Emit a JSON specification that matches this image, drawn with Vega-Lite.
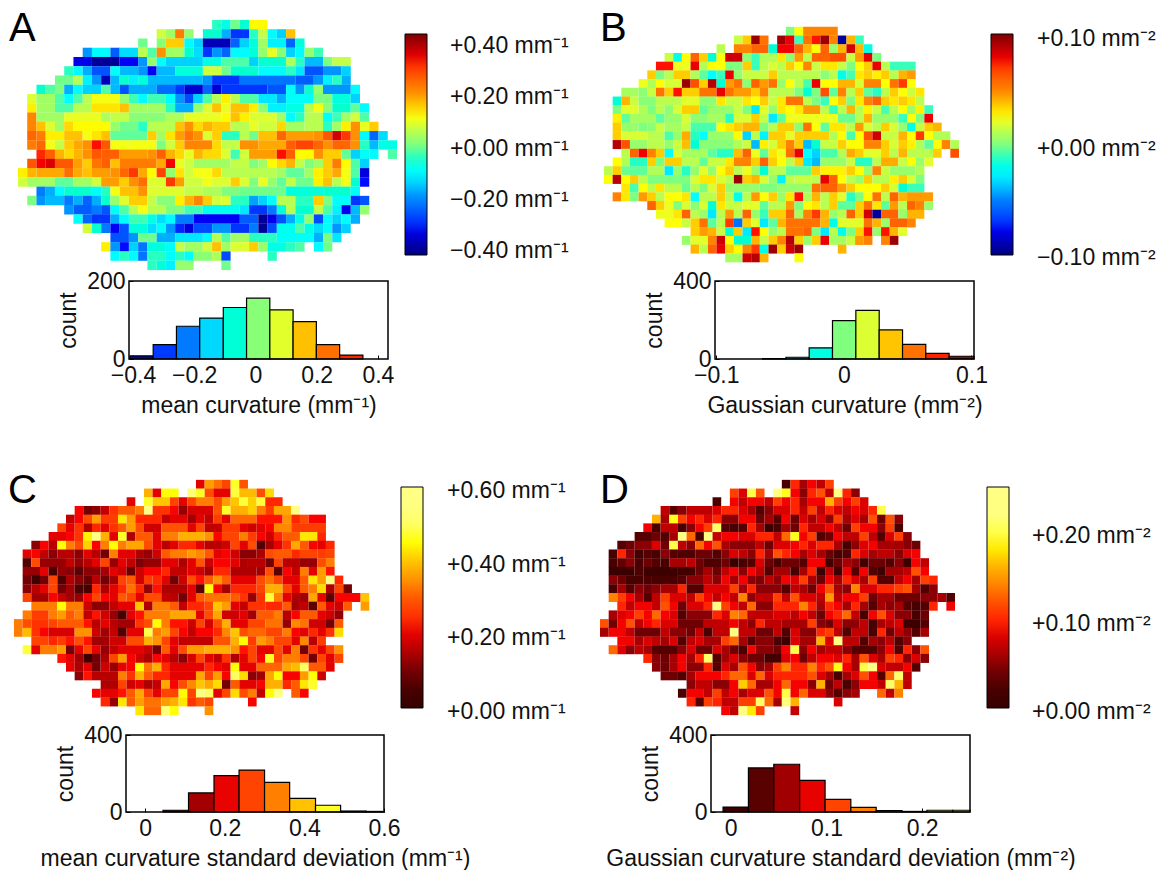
{"$schema":"https://vega.github.io/schema/vega-lite/v6.json","padding":{"left":8,"top":8,"right":0,"bottom":0},"background":"white","config":{"font":"Liberation Sans","view":{"stroke":null},"axis":{"grid":false,"domain":false,"labelFontSize":23,"titleFontSize":23,"titleFontWeight":"normal","labelColor":"#111","titleColor":"#111","tickColor":"#000","tickSize":-4,"labelPadding":9,"labelFlush":false,"labelOverlap":false}},"datasets":{"A":[{"r":0,"a":21,"b":22,"v":-0.05},{"r":0,"a":22,"b":23,"v":-0.08},{"r":0,"a":23,"b":24,"v":-0.01},{"r":0,"a":24,"b":25,"v":-0.06},{"r":0,"a":25,"b":27,"v":0.11},{"r":1,"a":15,"b":16,"v":0.07},{"r":1,"a":16,"b":17,"v":0.03},{"r":1,"a":17,"b":18,"v":0.22},{"r":1,"a":18,"b":19,"v":0.02},{"r":1,"a":20,"b":22,"v":-0.06},{"r":1,"a":22,"b":23,"v":-0.18},{"r":1,"a":23,"b":25,"v":-0.3},{"r":1,"a":25,"b":26,"v":-0.05},{"r":1,"a":26,"b":27,"v":0.06},{"r":1,"a":27,"b":28,"v":-0.11},{"r":1,"a":28,"b":29,"v":-0.15},{"r":1,"a":29,"b":30,"v":0.16},{"r":2,"a":13,"b":14,"v":-0.01},{"r":2,"a":15,"b":16,"v":0.01},{"r":2,"a":16,"b":18,"v":0.15},{"r":2,"a":18,"b":19,"v":-0.11},{"r":2,"a":19,"b":20,"v":-0.15},{"r":2,"a":20,"b":23,"v":-0.38},{"r":2,"a":23,"b":24,"v":-0.25},{"r":2,"a":24,"b":25,"v":-0.15},{"r":2,"a":25,"b":26,"v":-0.07},{"r":2,"a":26,"b":27,"v":0.03},{"r":2,"a":27,"b":29,"v":-0.12},{"r":2,"a":29,"b":30,"v":-0.25},{"r":2,"a":30,"b":31,"v":-0.07},{"r":3,"a":7,"b":8,"v":-0.2},{"r":3,"a":8,"b":10,"v":-0.11},{"r":3,"a":10,"b":11,"v":-0.26},{"r":3,"a":11,"b":13,"v":-0.14},{"r":3,"a":13,"b":14,"v":0.05},{"r":3,"a":14,"b":15,"v":-0.03},{"r":3,"a":15,"b":16,"v":0.2},{"r":3,"a":16,"b":18,"v":0.03},{"r":3,"a":18,"b":19,"v":-0.06},{"r":3,"a":19,"b":20,"v":-0.14},{"r":3,"a":20,"b":21,"v":-0.3},{"r":3,"a":21,"b":22,"v":-0.2},{"r":3,"a":22,"b":23,"v":-0.25},{"r":3,"a":23,"b":25,"v":-0.11},{"r":3,"a":25,"b":26,"v":-0.07},{"r":3,"a":26,"b":27,"v":0.02},{"r":3,"a":27,"b":28,"v":0.09},{"r":3,"a":28,"b":29,"v":0.01},{"r":3,"a":29,"b":30,"v":-0.15},{"r":3,"a":30,"b":31,"v":-0.11},{"r":3,"a":31,"b":32,"v":0.02},{"r":3,"a":32,"b":33,"v":-0.04},{"r":4,"a":6,"b":8,"v":-0.34},{"r":4,"a":8,"b":11,"v":-0.41},{"r":4,"a":11,"b":13,"v":-0.33},{"r":4,"a":13,"b":14,"v":-0.2},{"r":4,"a":14,"b":15,"v":0.02},{"r":4,"a":15,"b":16,"v":-0.1},{"r":4,"a":16,"b":20,"v":-0.15},{"r":4,"a":20,"b":22,"v":-0.08},{"r":4,"a":22,"b":25,"v":-0.03},{"r":4,"a":25,"b":26,"v":-0.15},{"r":4,"a":26,"b":29,"v":-0.06},{"r":4,"a":29,"b":30,"v":0.04},{"r":4,"a":30,"b":31,"v":-0.05},{"r":4,"a":31,"b":33,"v":-0.17},{"r":4,"a":33,"b":34,"v":0},{"r":4,"a":34,"b":36,"v":0.06},{"r":5,"a":5,"b":6,"v":-0.05},{"r":5,"a":6,"b":7,"v":-0.11},{"r":5,"a":7,"b":8,"v":-0.18},{"r":5,"a":8,"b":10,"v":-0.27},{"r":5,"a":10,"b":11,"v":-0.1},{"r":5,"a":11,"b":13,"v":-0.17},{"r":5,"a":13,"b":14,"v":-0.2},{"r":5,"a":14,"b":15,"v":-0.33},{"r":5,"a":15,"b":17,"v":-0.17},{"r":5,"a":17,"b":20,"v":-0.07},{"r":5,"a":20,"b":22,"v":0.07},{"r":5,"a":22,"b":23,"v":-0.01},{"r":5,"a":23,"b":26,"v":-0.06},{"r":5,"a":26,"b":29,"v":-0.11},{"r":5,"a":29,"b":30,"v":-0.05},{"r":5,"a":30,"b":31,"v":-0.13},{"r":5,"a":31,"b":33,"v":-0.27},{"r":5,"a":33,"b":35,"v":-0.2},{"r":5,"a":35,"b":36,"v":-0.15},{"r":6,"a":4,"b":6,"v":-0.01},{"r":6,"a":6,"b":7,"v":0.05},{"r":6,"a":7,"b":8,"v":-0.12},{"r":6,"a":8,"b":9,"v":-0.2},{"r":6,"a":9,"b":10,"v":-0.38},{"r":6,"a":10,"b":11,"v":-0.17},{"r":6,"a":11,"b":12,"v":-0.06},{"r":6,"a":12,"b":13,"v":-0.12},{"r":6,"a":13,"b":14,"v":-0.07},{"r":6,"a":14,"b":20,"v":-0.17},{"r":6,"a":20,"b":21,"v":-0.2},{"r":6,"a":21,"b":24,"v":-0.3},{"r":6,"a":24,"b":30,"v":-0.23},{"r":6,"a":30,"b":32,"v":-0.26},{"r":6,"a":32,"b":33,"v":-0.2},{"r":6,"a":33,"b":34,"v":-0.12},{"r":6,"a":34,"b":35,"v":-0.05},{"r":6,"a":35,"b":36,"v":-0.18},{"r":7,"a":2,"b":3,"v":-0.06},{"r":7,"a":3,"b":4,"v":-0.03},{"r":7,"a":4,"b":5,"v":0},{"r":7,"a":5,"b":6,"v":-0.18},{"r":7,"a":6,"b":7,"v":-0.11},{"r":7,"a":7,"b":9,"v":-0.15},{"r":7,"a":9,"b":10,"v":-0.03},{"r":7,"a":10,"b":11,"v":-0.17},{"r":7,"a":11,"b":12,"v":-0.27},{"r":7,"a":12,"b":15,"v":-0.18},{"r":7,"a":15,"b":17,"v":-0.24},{"r":7,"a":17,"b":18,"v":-0.3},{"r":7,"a":18,"b":20,"v":-0.36},{"r":7,"a":20,"b":21,"v":-0.25},{"r":7,"a":21,"b":22,"v":-0.36},{"r":7,"a":22,"b":27,"v":-0.3},{"r":7,"a":27,"b":29,"v":-0.27},{"r":7,"a":29,"b":30,"v":-0.1},{"r":7,"a":30,"b":31,"v":-0.2},{"r":7,"a":31,"b":32,"v":-0.06},{"r":7,"a":32,"b":33,"v":0.02},{"r":7,"a":33,"b":36,"v":-0.2},{"r":7,"a":36,"b":37,"v":-0.11},{"r":8,"a":1,"b":2,"v":0.08},{"r":8,"a":2,"b":4,"v":0.03},{"r":8,"a":4,"b":5,"v":-0.03},{"r":8,"a":5,"b":6,"v":-0.1},{"r":8,"a":6,"b":7,"v":-0.03},{"r":8,"a":7,"b":8,"v":0.05},{"r":8,"a":8,"b":11,"v":0.1},{"r":8,"a":11,"b":12,"v":0.02},{"r":8,"a":12,"b":13,"v":-0.04},{"r":8,"a":13,"b":14,"v":-0.11},{"r":8,"a":14,"b":16,"v":-0.04},{"r":8,"a":16,"b":17,"v":-0.1},{"r":8,"a":17,"b":18,"v":-0.2},{"r":8,"a":18,"b":19,"v":-0.28},{"r":8,"a":19,"b":20,"v":-0.15},{"r":8,"a":20,"b":21,"v":-0.03},{"r":8,"a":21,"b":22,"v":0.05},{"r":8,"a":22,"b":23,"v":0.12},{"r":8,"a":23,"b":24,"v":0.05},{"r":8,"a":24,"b":26,"v":-0.03},{"r":8,"a":26,"b":28,"v":-0.13},{"r":8,"a":28,"b":29,"v":-0.18},{"r":8,"a":29,"b":32,"v":-0.1},{"r":8,"a":32,"b":34,"v":0},{"r":8,"a":34,"b":36,"v":-0.07},{"r":8,"a":36,"b":37,"v":-0.15},{"r":9,"a":1,"b":2,"v":0.12},{"r":9,"a":2,"b":4,"v":0.03},{"r":9,"a":4,"b":6,"v":-0.03},{"r":9,"a":6,"b":8,"v":0.05},{"r":9,"a":8,"b":11,"v":0.13},{"r":9,"a":11,"b":12,"v":0.16},{"r":9,"a":12,"b":14,"v":0.03},{"r":9,"a":14,"b":16,"v":0.03},{"r":9,"a":16,"b":17,"v":-0.05},{"r":9,"a":17,"b":19,"v":-0.18},{"r":9,"a":19,"b":20,"v":0.02},{"r":9,"a":20,"b":21,"v":0.08},{"r":9,"a":21,"b":22,"v":0.16},{"r":9,"a":22,"b":23,"v":0.09},{"r":9,"a":23,"b":25,"v":0.16},{"r":9,"a":25,"b":26,"v":0.12},{"r":9,"a":26,"b":27,"v":0.01},{"r":9,"a":27,"b":29,"v":-0.12},{"r":9,"a":29,"b":31,"v":-0.08},{"r":9,"a":31,"b":32,"v":0.05},{"r":9,"a":32,"b":33,"v":0.1},{"r":9,"a":33,"b":34,"v":0.01},{"r":9,"a":34,"b":36,"v":-0.06},{"r":9,"a":36,"b":37,"v":-0.02},{"r":9,"a":37,"b":38,"v":-0.11},{"r":10,"a":1,"b":2,"v":0.21},{"r":10,"a":2,"b":5,"v":0.03},{"r":10,"a":5,"b":9,"v":0.09},{"r":10,"a":9,"b":10,"v":0.04},{"r":10,"a":10,"b":12,"v":0.06},{"r":10,"a":12,"b":16,"v":0.01},{"r":10,"a":16,"b":18,"v":0.04},{"r":10,"a":18,"b":22,"v":0.09},{"r":10,"a":22,"b":23,"v":0.11},{"r":10,"a":23,"b":24,"v":0.16},{"r":10,"a":24,"b":25,"v":0.12},{"r":10,"a":25,"b":28,"v":0.08},{"r":10,"a":28,"b":29,"v":0.03},{"r":10,"a":29,"b":30,"v":-0.11},{"r":10,"a":30,"b":31,"v":-0.05},{"r":10,"a":31,"b":33,"v":0.05},{"r":10,"a":33,"b":34,"v":-0.1},{"r":10,"a":34,"b":35,"v":-0.04},{"r":10,"a":35,"b":36,"v":0.03},{"r":10,"a":36,"b":37,"v":0.07},{"r":10,"a":37,"b":38,"v":-0.03},{"r":11,"a":1,"b":2,"v":0.21},{"r":11,"a":2,"b":3,"v":0.16},{"r":11,"a":3,"b":4,"v":0.08},{"r":11,"a":4,"b":5,"v":0.03},{"r":11,"a":5,"b":6,"v":0.14},{"r":11,"a":6,"b":10,"v":0.11},{"r":11,"a":10,"b":11,"v":0.02},{"r":11,"a":11,"b":13,"v":-0.01},{"r":11,"a":13,"b":14,"v":-0.05},{"r":11,"a":14,"b":17,"v":0.05},{"r":11,"a":17,"b":18,"v":0.16},{"r":11,"a":18,"b":19,"v":0.2},{"r":11,"a":19,"b":20,"v":0.14},{"r":11,"a":20,"b":21,"v":0.17},{"r":11,"a":21,"b":23,"v":0.15},{"r":11,"a":23,"b":25,"v":0.05},{"r":11,"a":25,"b":26,"v":0.09},{"r":11,"a":26,"b":28,"v":0.07},{"r":11,"a":28,"b":29,"v":0.14},{"r":11,"a":29,"b":31,"v":0.03},{"r":11,"a":31,"b":33,"v":0.05},{"r":11,"a":33,"b":34,"v":-0.05},{"r":11,"a":34,"b":35,"v":0.03},{"r":11,"a":35,"b":36,"v":0.12},{"r":11,"a":36,"b":37,"v":0.2},{"r":11,"a":37,"b":38,"v":0.09},{"r":11,"a":38,"b":39,"v":0.15},{"r":12,"a":1,"b":2,"v":0.25},{"r":12,"a":2,"b":3,"v":0.22},{"r":12,"a":3,"b":5,"v":0.12},{"r":12,"a":5,"b":7,"v":0.16},{"r":12,"a":7,"b":8,"v":0.1},{"r":12,"a":8,"b":9,"v":0.13},{"r":12,"a":9,"b":10,"v":0.16},{"r":12,"a":10,"b":14,"v":-0.02},{"r":12,"a":14,"b":15,"v":0.15},{"r":12,"a":15,"b":16,"v":0.03},{"r":12,"a":16,"b":17,"v":0.13},{"r":12,"a":17,"b":18,"v":0.19},{"r":12,"a":18,"b":19,"v":0.23},{"r":12,"a":19,"b":20,"v":0.2},{"r":12,"a":20,"b":21,"v":0.08},{"r":12,"a":21,"b":22,"v":0.15},{"r":12,"a":22,"b":24,"v":-0.05},{"r":12,"a":24,"b":25,"v":0.05},{"r":12,"a":25,"b":26,"v":-0.01},{"r":12,"a":26,"b":28,"v":0.16},{"r":12,"a":28,"b":29,"v":0.25},{"r":12,"a":29,"b":32,"v":0.19},{"r":12,"a":32,"b":33,"v":0.2},{"r":12,"a":33,"b":34,"v":0.27},{"r":12,"a":34,"b":35,"v":0.36},{"r":12,"a":35,"b":36,"v":0.3},{"r":12,"a":36,"b":37,"v":0.2},{"r":12,"a":37,"b":38,"v":-0.11},{"r":12,"a":38,"b":39,"v":-0.25},{"r":12,"a":39,"b":40,"v":-0.14},{"r":13,"a":1,"b":2,"v":0.22},{"r":13,"a":2,"b":3,"v":0.25},{"r":13,"a":3,"b":4,"v":0.1},{"r":13,"a":4,"b":5,"v":0.06},{"r":13,"a":5,"b":6,"v":0.15},{"r":13,"a":6,"b":7,"v":0.18},{"r":13,"a":7,"b":8,"v":0.2},{"r":13,"a":8,"b":9,"v":0.32},{"r":13,"a":9,"b":10,"v":0.27},{"r":13,"a":10,"b":12,"v":0.1},{"r":13,"a":12,"b":15,"v":0.1},{"r":13,"a":15,"b":16,"v":0},{"r":13,"a":16,"b":17,"v":0.07},{"r":13,"a":17,"b":18,"v":0.15},{"r":13,"a":18,"b":21,"v":0.21},{"r":13,"a":21,"b":22,"v":0.14},{"r":13,"a":22,"b":24,"v":0.06},{"r":13,"a":24,"b":26,"v":0.2},{"r":13,"a":26,"b":29,"v":0.18},{"r":13,"a":29,"b":30,"v":0.26},{"r":13,"a":30,"b":32,"v":0.29},{"r":13,"a":32,"b":33,"v":0.25},{"r":13,"a":33,"b":34,"v":0.2},{"r":13,"a":34,"b":36,"v":0.25},{"r":13,"a":36,"b":37,"v":0.2},{"r":13,"a":37,"b":38,"v":-0.05},{"r":13,"a":38,"b":39,"v":-0.17},{"r":13,"a":39,"b":41,"v":-0.08},{"r":14,"a":2,"b":3,"v":0.31},{"r":14,"a":3,"b":4,"v":0.26},{"r":14,"a":4,"b":5,"v":0.17},{"r":14,"a":5,"b":6,"v":0.14},{"r":14,"a":6,"b":7,"v":0.17},{"r":14,"a":7,"b":8,"v":0.2},{"r":14,"a":8,"b":9,"v":0.27},{"r":14,"a":9,"b":11,"v":0.26},{"r":14,"a":11,"b":14,"v":0.19},{"r":14,"a":14,"b":15,"v":0.2},{"r":14,"a":15,"b":16,"v":0.26},{"r":14,"a":16,"b":17,"v":0.17},{"r":14,"a":17,"b":18,"v":0.14},{"r":14,"a":18,"b":19,"v":0.09},{"r":14,"a":19,"b":20,"v":0.17},{"r":14,"a":20,"b":22,"v":0.14},{"r":14,"a":22,"b":23,"v":0.08},{"r":14,"a":23,"b":24,"v":-0.04},{"r":14,"a":24,"b":25,"v":0.07},{"r":14,"a":25,"b":28,"v":0.19},{"r":14,"a":28,"b":29,"v":0.32},{"r":14,"a":29,"b":30,"v":0.26},{"r":14,"a":30,"b":32,"v":0.11},{"r":14,"a":32,"b":33,"v":0.2},{"r":14,"a":33,"b":35,"v":0.15},{"r":14,"a":35,"b":36,"v":-0.02},{"r":14,"a":36,"b":37,"v":-0.15},{"r":14,"a":37,"b":38,"v":-0.1},{"r":14,"a":38,"b":39,"v":-0.11},{"r":14,"a":40,"b":41,"v":-0.03},{"r":15,"a":1,"b":2,"v":0.27},{"r":15,"a":2,"b":3,"v":0.33},{"r":15,"a":3,"b":4,"v":0.35},{"r":15,"a":4,"b":6,"v":0.27},{"r":15,"a":6,"b":7,"v":0.19},{"r":15,"a":7,"b":8,"v":0.15},{"r":15,"a":8,"b":9,"v":0.23},{"r":15,"a":9,"b":10,"v":0.26},{"r":15,"a":10,"b":11,"v":0.16},{"r":15,"a":11,"b":15,"v":0.22},{"r":15,"a":15,"b":16,"v":0.18},{"r":15,"a":16,"b":17,"v":0.33},{"r":15,"a":17,"b":18,"v":0.09},{"r":15,"a":18,"b":19,"v":0.07},{"r":15,"a":19,"b":23,"v":0.03},{"r":15,"a":23,"b":25,"v":0.06},{"r":15,"a":25,"b":26,"v":0},{"r":15,"a":26,"b":27,"v":0.03},{"r":15,"a":27,"b":28,"v":0.11},{"r":15,"a":28,"b":29,"v":0.14},{"r":15,"a":29,"b":30,"v":0.17},{"r":15,"a":30,"b":31,"v":0.06},{"r":15,"a":31,"b":32,"v":0},{"r":15,"a":32,"b":33,"v":0.03},{"r":15,"a":33,"b":34,"v":0.15},{"r":15,"a":34,"b":35,"v":0.22},{"r":15,"a":35,"b":36,"v":0.11},{"r":15,"a":36,"b":37,"v":-0.03},{"r":15,"a":37,"b":38,"v":-0.15},{"r":16,"a":0,"b":1,"v":0.12},{"r":16,"a":1,"b":2,"v":0.17},{"r":16,"a":2,"b":5,"v":0.18},{"r":16,"a":5,"b":6,"v":0.24},{"r":16,"a":6,"b":7,"v":0.18},{"r":16,"a":7,"b":8,"v":0.16},{"r":16,"a":8,"b":10,"v":0.19},{"r":16,"a":10,"b":11,"v":0.2},{"r":16,"a":11,"b":12,"v":0.25},{"r":16,"a":12,"b":13,"v":0.3},{"r":16,"a":13,"b":14,"v":0.18},{"r":16,"a":14,"b":15,"v":0.11},{"r":16,"a":15,"b":16,"v":0.29},{"r":16,"a":16,"b":17,"v":0.02},{"r":16,"a":17,"b":18,"v":0.13},{"r":16,"a":18,"b":19,"v":0.07},{"r":16,"a":19,"b":21,"v":0.1},{"r":16,"a":21,"b":22,"v":0.14},{"r":16,"a":22,"b":28,"v":0.05},{"r":16,"a":28,"b":29,"v":0.03},{"r":16,"a":29,"b":31,"v":-0.02},{"r":16,"a":31,"b":32,"v":0.03},{"r":16,"a":32,"b":33,"v":0.12},{"r":16,"a":33,"b":34,"v":0.15},{"r":16,"a":34,"b":35,"v":0.18},{"r":16,"a":35,"b":36,"v":0.1},{"r":16,"a":36,"b":37,"v":-0.03},{"r":16,"a":37,"b":38,"v":-0.35},{"r":17,"a":0,"b":1,"v":0.07},{"r":17,"a":1,"b":4,"v":0.03},{"r":17,"a":4,"b":6,"v":-0.02},{"r":17,"a":6,"b":8,"v":0.03},{"r":17,"a":8,"b":9,"v":0.07},{"r":17,"a":9,"b":11,"v":0.19},{"r":17,"a":11,"b":12,"v":0.15},{"r":17,"a":12,"b":13,"v":0.2},{"r":17,"a":13,"b":14,"v":0.24},{"r":17,"a":14,"b":16,"v":0.08},{"r":17,"a":16,"b":17,"v":0.3},{"r":17,"a":17,"b":18,"v":0.19},{"r":17,"a":18,"b":20,"v":0.07},{"r":17,"a":20,"b":21,"v":0.1},{"r":17,"a":21,"b":23,"v":0.08},{"r":17,"a":23,"b":24,"v":0.15},{"r":17,"a":24,"b":25,"v":0.08},{"r":17,"a":25,"b":26,"v":0},{"r":17,"a":26,"b":27,"v":0.09},{"r":17,"a":27,"b":28,"v":0.02},{"r":17,"a":28,"b":29,"v":-0.02},{"r":17,"a":29,"b":30,"v":0.06},{"r":17,"a":30,"b":32,"v":-0.01},{"r":17,"a":32,"b":33,"v":0.12},{"r":17,"a":33,"b":34,"v":0.16},{"r":17,"a":34,"b":35,"v":0.05},{"r":17,"a":35,"b":36,"v":0.1},{"r":17,"a":36,"b":37,"v":-0.06},{"r":17,"a":37,"b":38,"v":-0.32},{"r":18,"a":2,"b":3,"v":-0.22},{"r":18,"a":3,"b":4,"v":-0.18},{"r":18,"a":4,"b":5,"v":-0.11},{"r":18,"a":5,"b":8,"v":-0.06},{"r":18,"a":8,"b":9,"v":-0.1},{"r":18,"a":9,"b":10,"v":-0.05},{"r":18,"a":10,"b":11,"v":0.1},{"r":18,"a":11,"b":13,"v":0.16},{"r":18,"a":13,"b":14,"v":0.2},{"r":18,"a":14,"b":18,"v":0.08},{"r":18,"a":18,"b":20,"v":0.06},{"r":18,"a":20,"b":22,"v":0.04},{"r":18,"a":22,"b":24,"v":0},{"r":18,"a":24,"b":29,"v":-0.01},{"r":18,"a":29,"b":33,"v":-0.07},{"r":18,"a":33,"b":36,"v":-0.06},{"r":18,"a":36,"b":37,"v":-0.1},{"r":19,"a":1,"b":2,"v":0},{"r":19,"a":2,"b":3,"v":-0.2},{"r":19,"a":3,"b":5,"v":-0.17},{"r":19,"a":5,"b":6,"v":-0.22},{"r":19,"a":6,"b":7,"v":-0.18},{"r":19,"a":7,"b":8,"v":-0.25},{"r":19,"a":8,"b":9,"v":-0.18},{"r":19,"a":9,"b":10,"v":-0.06},{"r":19,"a":10,"b":11,"v":0.02},{"r":19,"a":11,"b":12,"v":0.08},{"r":19,"a":12,"b":14,"v":0.15},{"r":19,"a":14,"b":15,"v":0.06},{"r":19,"a":15,"b":17,"v":0.01},{"r":19,"a":17,"b":18,"v":0.12},{"r":19,"a":18,"b":19,"v":0.17},{"r":19,"a":19,"b":20,"v":0.21},{"r":19,"a":20,"b":21,"v":0.15},{"r":19,"a":21,"b":22,"v":0.07},{"r":19,"a":22,"b":23,"v":0.08},{"r":19,"a":23,"b":25,"v":-0.05},{"r":19,"a":25,"b":26,"v":-0.19},{"r":19,"a":26,"b":27,"v":-0.15},{"r":19,"a":27,"b":28,"v":-0.1},{"r":19,"a":28,"b":30,"v":0.05},{"r":19,"a":30,"b":32,"v":-0.05},{"r":19,"a":32,"b":33,"v":0.15},{"r":19,"a":33,"b":34,"v":0},{"r":19,"a":34,"b":36,"v":-0.1},{"r":19,"a":36,"b":37,"v":-0.3},{"r":19,"a":37,"b":38,"v":-0.27},{"r":20,"a":5,"b":6,"v":-0.2},{"r":20,"a":6,"b":8,"v":-0.26},{"r":20,"a":8,"b":9,"v":-0.22},{"r":20,"a":9,"b":10,"v":-0.27},{"r":20,"a":10,"b":11,"v":-0.1},{"r":20,"a":11,"b":12,"v":-0.03},{"r":20,"a":12,"b":13,"v":0.05},{"r":20,"a":13,"b":14,"v":0.1},{"r":20,"a":14,"b":16,"v":0.05},{"r":20,"a":16,"b":18,"v":0},{"r":20,"a":18,"b":20,"v":-0.04},{"r":20,"a":20,"b":24,"v":-0.09},{"r":20,"a":24,"b":25,"v":-0.13},{"r":20,"a":25,"b":27,"v":-0.3},{"r":20,"a":27,"b":28,"v":-0.22},{"r":20,"a":28,"b":29,"v":-0.07},{"r":20,"a":29,"b":30,"v":0.05},{"r":20,"a":30,"b":32,"v":-0.06},{"r":20,"a":32,"b":33,"v":0.06},{"r":20,"a":33,"b":34,"v":-0.03},{"r":20,"a":34,"b":35,"v":-0.12},{"r":20,"a":35,"b":36,"v":-0.33},{"r":20,"a":36,"b":37,"v":-0.17},{"r":20,"a":37,"b":38,"v":0.02},{"r":21,"a":6,"b":7,"v":-0.1},{"r":21,"a":7,"b":8,"v":-0.25},{"r":21,"a":8,"b":10,"v":-0.3},{"r":21,"a":10,"b":11,"v":-0.18},{"r":21,"a":11,"b":12,"v":-0.1},{"r":21,"a":12,"b":14,"v":-0.04},{"r":21,"a":14,"b":15,"v":-0.08},{"r":21,"a":15,"b":16,"v":-0.14},{"r":21,"a":16,"b":17,"v":-0.11},{"r":21,"a":17,"b":19,"v":-0.22},{"r":21,"a":19,"b":24,"v":-0.33},{"r":21,"a":24,"b":26,"v":-0.26},{"r":21,"a":26,"b":27,"v":-0.41},{"r":21,"a":27,"b":28,"v":-0.34},{"r":21,"a":28,"b":29,"v":-0.27},{"r":21,"a":29,"b":30,"v":-0.18},{"r":21,"a":30,"b":31,"v":-0.08},{"r":21,"a":31,"b":32,"v":0.02},{"r":21,"a":32,"b":33,"v":-0.28},{"r":21,"a":33,"b":34,"v":-0.11},{"r":21,"a":34,"b":35,"v":-0.15},{"r":21,"a":35,"b":36,"v":-0.11},{"r":21,"a":36,"b":37,"v":-0.18},{"r":22,"a":7,"b":8,"v":0.07},{"r":22,"a":8,"b":9,"v":-0.06},{"r":22,"a":9,"b":10,"v":-0.22},{"r":22,"a":10,"b":11,"v":-0.33},{"r":22,"a":11,"b":12,"v":-0.27},{"r":22,"a":12,"b":14,"v":-0.07},{"r":22,"a":14,"b":15,"v":-0.14},{"r":22,"a":15,"b":16,"v":-0.1},{"r":22,"a":16,"b":17,"v":-0.2},{"r":22,"a":17,"b":18,"v":-0.31},{"r":22,"a":18,"b":19,"v":-0.35},{"r":22,"a":19,"b":21,"v":-0.28},{"r":22,"a":21,"b":23,"v":-0.2},{"r":22,"a":23,"b":25,"v":-0.3},{"r":22,"a":25,"b":26,"v":-0.22},{"r":22,"a":26,"b":27,"v":-0.41},{"r":22,"a":27,"b":28,"v":-0.28},{"r":22,"a":28,"b":30,"v":-0.09},{"r":22,"a":30,"b":31,"v":-0.03},{"r":22,"a":31,"b":32,"v":-0.08},{"r":22,"a":32,"b":33,"v":-0.14},{"r":22,"a":33,"b":34,"v":-0.1},{"r":22,"a":34,"b":35,"v":-0.2},{"r":22,"a":35,"b":36,"v":-0.15},{"r":23,"a":10,"b":12,"v":-0.27},{"r":23,"a":12,"b":13,"v":-0.2},{"r":23,"a":13,"b":15,"v":-0.01},{"r":23,"a":15,"b":17,"v":-0.18},{"r":23,"a":17,"b":20,"v":-0.13},{"r":23,"a":20,"b":21,"v":-0.1},{"r":23,"a":21,"b":22,"v":0.05},{"r":23,"a":22,"b":23,"v":-0.03},{"r":23,"a":23,"b":25,"v":0.03},{"r":23,"a":25,"b":28,"v":-0.05},{"r":23,"a":28,"b":32,"v":-0.1},{"r":23,"a":32,"b":33,"v":-0.18},{"r":23,"a":33,"b":34,"v":0},{"r":23,"a":34,"b":35,"v":-0.13},{"r":24,"a":9,"b":10,"v":0.12},{"r":24,"a":10,"b":11,"v":-0.2},{"r":24,"a":11,"b":12,"v":-0.32},{"r":24,"a":12,"b":13,"v":-0.15},{"r":24,"a":13,"b":14,"v":-0.23},{"r":24,"a":14,"b":16,"v":-0.07},{"r":24,"a":16,"b":17,"v":-0.1},{"r":24,"a":17,"b":18,"v":0.06},{"r":24,"a":18,"b":20,"v":0.03},{"r":24,"a":20,"b":21,"v":0.07},{"r":24,"a":21,"b":22,"v":0.16},{"r":24,"a":22,"b":23,"v":0.03},{"r":24,"a":23,"b":25,"v":0.08},{"r":24,"a":25,"b":26,"v":0.15},{"r":24,"a":26,"b":27,"v":0.02},{"r":24,"a":27,"b":29,"v":-0.08},{"r":24,"a":29,"b":30,"v":-0.05},{"r":24,"a":30,"b":31,"v":-0.03},{"r":24,"a":32,"b":33,"v":-0.11},{"r":24,"a":33,"b":34,"v":-0.01},{"r":25,"a":10,"b":11,"v":-0.11},{"r":25,"a":11,"b":12,"v":-0.05},{"r":25,"a":12,"b":13,"v":-0.11},{"r":25,"a":13,"b":14,"v":-0.23},{"r":25,"a":14,"b":16,"v":-0.05},{"r":25,"a":16,"b":17,"v":-0.1},{"r":25,"a":17,"b":18,"v":-0.05},{"r":25,"a":18,"b":19,"v":-0.1},{"r":25,"a":19,"b":21,"v":0.01},{"r":25,"a":21,"b":22,"v":0.04},{"r":25,"a":22,"b":23,"v":-0.28},{"r":25,"a":27,"b":28,"v":-0.05},{"r":26,"a":14,"b":15,"v":-0.05},{"r":26,"a":15,"b":16,"v":-0.07},{"r":26,"a":16,"b":17,"v":-0.12},{"r":26,"a":17,"b":19,"v":0.02},{"r":26,"a":22,"b":23,"v":-0.01}],"B":[{"r":0,"a":21,"b":22,"v":0},{"r":0,"a":22,"b":23,"v":0.025},{"r":0,"a":23,"b":27,"v":0.05},{"r":1,"a":15,"b":16,"v":0.015},{"r":1,"a":16,"b":17,"v":0.035},{"r":1,"a":17,"b":18,"v":0.095},{"r":1,"a":18,"b":19,"v":0.055},{"r":1,"a":20,"b":21,"v":0.095},{"r":1,"a":21,"b":22,"v":0.08},{"r":1,"a":22,"b":23,"v":-0.01},{"r":1,"a":23,"b":24,"v":0.055},{"r":1,"a":24,"b":25,"v":0.075},{"r":1,"a":25,"b":26,"v":0.095},{"r":1,"a":26,"b":27,"v":0.05},{"r":1,"a":27,"b":28,"v":-0.095},{"r":1,"a":28,"b":29,"v":0.04},{"r":1,"a":29,"b":30,"v":-0.01},{"r":2,"a":13,"b":14,"v":0.012},{"r":2,"a":15,"b":17,"v":0.05},{"r":2,"a":17,"b":19,"v":0.06},{"r":2,"a":19,"b":20,"v":-0.015},{"r":2,"a":20,"b":22,"v":0.078},{"r":2,"a":22,"b":23,"v":0.06},{"r":2,"a":23,"b":24,"v":0.04},{"r":2,"a":24,"b":25,"v":0.025},{"r":2,"a":25,"b":26,"v":0.06},{"r":2,"a":26,"b":27,"v":0.005},{"r":2,"a":27,"b":28,"v":0.04},{"r":2,"a":28,"b":29,"v":0.085},{"r":2,"a":29,"b":30,"v":0.04},{"r":2,"a":30,"b":31,"v":-0.02},{"r":3,"a":7,"b":8,"v":0.015},{"r":3,"a":8,"b":9,"v":-0.02},{"r":3,"a":9,"b":10,"v":0.025},{"r":3,"a":10,"b":11,"v":0.06},{"r":3,"a":11,"b":12,"v":0.035},{"r":3,"a":12,"b":13,"v":-0.015},{"r":3,"a":13,"b":14,"v":0.025},{"r":3,"a":14,"b":16,"v":0.085},{"r":3,"a":16,"b":17,"v":0.003},{"r":3,"a":17,"b":18,"v":-0.01},{"r":3,"a":18,"b":20,"v":0.01},{"r":3,"a":20,"b":21,"v":0.03},{"r":3,"a":21,"b":22,"v":0.003},{"r":3,"a":22,"b":23,"v":0.045},{"r":3,"a":23,"b":24,"v":0.012},{"r":3,"a":24,"b":26,"v":0.06},{"r":3,"a":26,"b":28,"v":0.065},{"r":3,"a":28,"b":29,"v":0.015},{"r":3,"a":29,"b":30,"v":0.045},{"r":3,"a":30,"b":31,"v":0.08},{"r":3,"a":31,"b":32,"v":0},{"r":4,"a":6,"b":8,"v":0.075},{"r":4,"a":8,"b":10,"v":0.022},{"r":4,"a":10,"b":11,"v":0.08},{"r":4,"a":11,"b":12,"v":0.01},{"r":4,"a":12,"b":14,"v":0.025},{"r":4,"a":14,"b":16,"v":0},{"r":4,"a":16,"b":17,"v":0.035},{"r":4,"a":17,"b":18,"v":-0.01},{"r":4,"a":18,"b":19,"v":0.012},{"r":4,"a":19,"b":20,"v":0.018},{"r":4,"a":20,"b":21,"v":0.012},{"r":4,"a":21,"b":22,"v":0.035},{"r":4,"a":22,"b":23,"v":0.025},{"r":4,"a":23,"b":24,"v":0.05},{"r":4,"a":24,"b":25,"v":0.015},{"r":4,"a":25,"b":27,"v":0.03},{"r":4,"a":27,"b":28,"v":0.015},{"r":4,"a":28,"b":29,"v":0},{"r":4,"a":29,"b":30,"v":0.025},{"r":4,"a":30,"b":31,"v":0.035},{"r":4,"a":31,"b":32,"v":0.08},{"r":4,"a":32,"b":33,"v":0.012},{"r":4,"a":33,"b":36,"v":-0.01},{"r":5,"a":5,"b":6,"v":0.035},{"r":5,"a":6,"b":7,"v":0},{"r":5,"a":7,"b":8,"v":0.012},{"r":5,"a":8,"b":10,"v":0.035},{"r":5,"a":10,"b":11,"v":0.01},{"r":5,"a":11,"b":12,"v":-0.005},{"r":5,"a":12,"b":13,"v":-0.025},{"r":5,"a":13,"b":14,"v":-0.01},{"r":5,"a":14,"b":15,"v":0.08},{"r":5,"a":15,"b":16,"v":0.005},{"r":5,"a":16,"b":19,"v":0.015},{"r":5,"a":19,"b":20,"v":0.035},{"r":5,"a":20,"b":25,"v":0.012},{"r":5,"a":25,"b":26,"v":0.003},{"r":5,"a":26,"b":27,"v":0.012},{"r":5,"a":27,"b":28,"v":-0.02},{"r":5,"a":28,"b":29,"v":-0.008},{"r":5,"a":29,"b":30,"v":0.03},{"r":5,"a":30,"b":31,"v":0.035},{"r":5,"a":31,"b":32,"v":0.028},{"r":5,"a":32,"b":33,"v":0.035},{"r":5,"a":33,"b":34,"v":0.012},{"r":5,"a":34,"b":35,"v":0.04},{"r":5,"a":35,"b":36,"v":0.045},{"r":6,"a":4,"b":5,"v":0.022},{"r":6,"a":5,"b":6,"v":0.01},{"r":6,"a":6,"b":7,"v":0.025},{"r":6,"a":7,"b":9,"v":0.018},{"r":6,"a":9,"b":10,"v":0.095},{"r":6,"a":10,"b":11,"v":0.065},{"r":6,"a":11,"b":12,"v":0.035},{"r":6,"a":12,"b":13,"v":0.09},{"r":6,"a":13,"b":14,"v":-0.015},{"r":6,"a":14,"b":15,"v":0.045},{"r":6,"a":15,"b":16,"v":0.055},{"r":6,"a":16,"b":17,"v":0.003},{"r":6,"a":17,"b":18,"v":0.06},{"r":6,"a":18,"b":19,"v":0.045},{"r":6,"a":19,"b":20,"v":0.055},{"r":6,"a":20,"b":21,"v":0.005},{"r":6,"a":21,"b":22,"v":0.025},{"r":6,"a":22,"b":23,"v":0.012},{"r":6,"a":23,"b":24,"v":-0.008},{"r":6,"a":24,"b":25,"v":0.08},{"r":6,"a":25,"b":27,"v":0.025},{"r":6,"a":27,"b":29,"v":0.04},{"r":6,"a":29,"b":30,"v":0.018},{"r":6,"a":30,"b":32,"v":0.05},{"r":6,"a":32,"b":33,"v":0.025},{"r":6,"a":33,"b":34,"v":0.055},{"r":6,"a":34,"b":35,"v":0.07},{"r":6,"a":35,"b":36,"v":0.025},{"r":7,"a":2,"b":4,"v":0.008},{"r":7,"a":4,"b":5,"v":0.003},{"r":7,"a":5,"b":6,"v":0.015},{"r":7,"a":6,"b":7,"v":0.055},{"r":7,"a":7,"b":8,"v":0.035},{"r":7,"a":8,"b":9,"v":0.075},{"r":7,"a":9,"b":11,"v":0.035},{"r":7,"a":11,"b":13,"v":0.055},{"r":7,"a":13,"b":14,"v":0.08},{"r":7,"a":14,"b":15,"v":0.055},{"r":7,"a":15,"b":17,"v":0.045},{"r":7,"a":17,"b":18,"v":0.035},{"r":7,"a":18,"b":19,"v":0.05},{"r":7,"a":19,"b":22,"v":0.012},{"r":7,"a":22,"b":23,"v":0},{"r":7,"a":23,"b":24,"v":-0.015},{"r":7,"a":24,"b":25,"v":0},{"r":7,"a":25,"b":26,"v":0.065},{"r":7,"a":26,"b":27,"v":-0.005},{"r":7,"a":27,"b":28,"v":0.05},{"r":7,"a":28,"b":29,"v":0.012},{"r":7,"a":29,"b":30,"v":0.035},{"r":7,"a":30,"b":31,"v":-0.005},{"r":7,"a":31,"b":32,"v":-0.012},{"r":7,"a":32,"b":33,"v":0.012},{"r":7,"a":33,"b":34,"v":0.035},{"r":7,"a":34,"b":35,"v":0.025},{"r":7,"a":35,"b":36,"v":0.015},{"r":7,"a":36,"b":37,"v":0.03},{"r":8,"a":1,"b":2,"v":-0.015},{"r":8,"a":2,"b":3,"v":0.04},{"r":8,"a":3,"b":4,"v":0.015},{"r":8,"a":4,"b":6,"v":0.002},{"r":8,"a":6,"b":9,"v":0.012},{"r":8,"a":9,"b":11,"v":0.02},{"r":8,"a":11,"b":13,"v":0.003},{"r":8,"a":13,"b":14,"v":0.03},{"r":8,"a":14,"b":16,"v":0.015},{"r":8,"a":16,"b":17,"v":0.03},{"r":8,"a":17,"b":18,"v":0.025},{"r":8,"a":18,"b":19,"v":0.035},{"r":8,"a":19,"b":20,"v":0.015},{"r":8,"a":20,"b":21,"v":0.03},{"r":8,"a":21,"b":23,"v":0.055},{"r":8,"a":23,"b":24,"v":0.012},{"r":8,"a":24,"b":25,"v":0},{"r":8,"a":25,"b":26,"v":-0.01},{"r":8,"a":26,"b":27,"v":0.025},{"r":8,"a":27,"b":28,"v":0.035},{"r":8,"a":28,"b":29,"v":0},{"r":8,"a":29,"b":30,"v":0.03},{"r":8,"a":30,"b":31,"v":0.05},{"r":8,"a":31,"b":32,"v":0.06},{"r":8,"a":32,"b":33,"v":0.035},{"r":8,"a":33,"b":34,"v":0.03},{"r":8,"a":34,"b":35,"v":0.035},{"r":8,"a":35,"b":36,"v":0.03},{"r":8,"a":36,"b":37,"v":0.012},{"r":9,"a":1,"b":2,"v":0},{"r":9,"a":2,"b":4,"v":0.02},{"r":9,"a":4,"b":5,"v":0.01},{"r":9,"a":5,"b":6,"v":0},{"r":9,"a":6,"b":7,"v":0.012},{"r":9,"a":7,"b":8,"v":0.003},{"r":9,"a":8,"b":9,"v":0.018},{"r":9,"a":9,"b":11,"v":0.035},{"r":9,"a":11,"b":12,"v":-0.005},{"r":9,"a":12,"b":15,"v":0.005},{"r":9,"a":15,"b":16,"v":0.015},{"r":9,"a":16,"b":17,"v":0},{"r":9,"a":17,"b":18,"v":-0.03},{"r":9,"a":18,"b":19,"v":0.02},{"r":9,"a":19,"b":20,"v":0.005},{"r":9,"a":20,"b":21,"v":0.03},{"r":9,"a":21,"b":22,"v":0.025},{"r":9,"a":22,"b":23,"v":0.03},{"r":9,"a":23,"b":25,"v":0.045},{"r":9,"a":25,"b":26,"v":0.012},{"r":9,"a":26,"b":27,"v":-0.01},{"r":9,"a":27,"b":28,"v":0.012},{"r":9,"a":28,"b":29,"v":0.04},{"r":9,"a":29,"b":30,"v":0.012},{"r":9,"a":30,"b":31,"v":0.028},{"r":9,"a":31,"b":32,"v":0.015},{"r":9,"a":32,"b":33,"v":-0.008},{"r":9,"a":33,"b":34,"v":0.012},{"r":9,"a":34,"b":35,"v":0.025},{"r":9,"a":35,"b":36,"v":0.005},{"r":9,"a":36,"b":37,"v":0.028},{"r":9,"a":37,"b":38,"v":-0.01},{"r":10,"a":1,"b":2,"v":0.028},{"r":10,"a":2,"b":3,"v":-0.005},{"r":10,"a":3,"b":6,"v":0.008},{"r":10,"a":6,"b":7,"v":-0.005},{"r":10,"a":7,"b":9,"v":0.005},{"r":10,"a":9,"b":10,"v":0.018},{"r":10,"a":10,"b":12,"v":0.003},{"r":10,"a":12,"b":14,"v":0.008},{"r":10,"a":14,"b":15,"v":-0.012},{"r":10,"a":15,"b":17,"v":0.018},{"r":10,"a":17,"b":18,"v":0.035},{"r":10,"a":18,"b":19,"v":0.015},{"r":10,"a":19,"b":20,"v":-0.03},{"r":10,"a":20,"b":21,"v":-0.005},{"r":10,"a":21,"b":27,"v":0.022},{"r":10,"a":27,"b":29,"v":-0.003},{"r":10,"a":29,"b":30,"v":0.012},{"r":10,"a":30,"b":31,"v":0.04},{"r":10,"a":31,"b":34,"v":0.005},{"r":10,"a":34,"b":35,"v":-0.01},{"r":10,"a":35,"b":36,"v":0.025},{"r":10,"a":36,"b":37,"v":0},{"r":10,"a":37,"b":38,"v":0.08},{"r":11,"a":1,"b":2,"v":0.035},{"r":11,"a":2,"b":4,"v":0.005},{"r":11,"a":4,"b":5,"v":0},{"r":11,"a":5,"b":6,"v":0.003},{"r":11,"a":6,"b":7,"v":0.015},{"r":11,"a":7,"b":9,"v":0.008},{"r":11,"a":9,"b":10,"v":0.015},{"r":11,"a":10,"b":13,"v":-0.008},{"r":11,"a":13,"b":14,"v":0.025},{"r":11,"a":14,"b":15,"v":0.03},{"r":11,"a":15,"b":16,"v":0.035},{"r":11,"a":16,"b":18,"v":0.04},{"r":11,"a":18,"b":19,"v":0},{"r":11,"a":19,"b":20,"v":0.012},{"r":11,"a":20,"b":22,"v":0.035},{"r":11,"a":22,"b":23,"v":0.003},{"r":11,"a":23,"b":24,"v":0.055},{"r":11,"a":24,"b":25,"v":0.025},{"r":11,"a":25,"b":26,"v":-0.005},{"r":11,"a":26,"b":28,"v":0.03},{"r":11,"a":28,"b":29,"v":0.012},{"r":11,"a":29,"b":30,"v":0.045},{"r":11,"a":30,"b":31,"v":0.018},{"r":11,"a":31,"b":32,"v":0.012},{"r":11,"a":32,"b":33,"v":0.035},{"r":11,"a":33,"b":34,"v":0.018},{"r":11,"a":34,"b":35,"v":0.005},{"r":11,"a":35,"b":36,"v":-0.02},{"r":11,"a":36,"b":37,"v":0.015},{"r":11,"a":37,"b":38,"v":0.035},{"r":11,"a":38,"b":39,"v":0.04},{"r":12,"a":1,"b":2,"v":0.035},{"r":12,"a":2,"b":5,"v":0.018},{"r":12,"a":5,"b":7,"v":0.012},{"r":12,"a":7,"b":8,"v":-0.008},{"r":12,"a":8,"b":9,"v":0.005},{"r":12,"a":9,"b":10,"v":0.042},{"r":12,"a":10,"b":11,"v":-0.012},{"r":12,"a":11,"b":12,"v":-0.025},{"r":12,"a":12,"b":15,"v":0.005},{"r":12,"a":15,"b":16,"v":0.025},{"r":12,"a":16,"b":17,"v":-0.035},{"r":12,"a":17,"b":18,"v":0.012},{"r":12,"a":18,"b":19,"v":-0.028},{"r":12,"a":19,"b":21,"v":0.035},{"r":12,"a":21,"b":22,"v":0.02},{"r":12,"a":22,"b":23,"v":0.035},{"r":12,"a":23,"b":26,"v":0.035},{"r":12,"a":26,"b":27,"v":0.01},{"r":12,"a":27,"b":28,"v":0.025},{"r":12,"a":28,"b":29,"v":-0.008},{"r":12,"a":29,"b":30,"v":0.025},{"r":12,"a":30,"b":31,"v":0.065},{"r":12,"a":31,"b":32,"v":0.085},{"r":12,"a":32,"b":34,"v":0.015},{"r":12,"a":34,"b":35,"v":0.04},{"r":12,"a":35,"b":36,"v":0.025},{"r":12,"a":36,"b":37,"v":0.07},{"r":12,"a":37,"b":38,"v":0.025},{"r":12,"a":38,"b":40,"v":0.01},{"r":13,"a":1,"b":2,"v":0.09},{"r":13,"a":2,"b":3,"v":0.065},{"r":13,"a":3,"b":5,"v":0.005},{"r":13,"a":5,"b":7,"v":0.012},{"r":13,"a":7,"b":8,"v":0.005},{"r":13,"a":8,"b":9,"v":0.015},{"r":13,"a":9,"b":10,"v":0.038},{"r":13,"a":10,"b":11,"v":-0.015},{"r":13,"a":11,"b":15,"v":0.002},{"r":13,"a":15,"b":16,"v":0.01},{"r":13,"a":16,"b":17,"v":0.015},{"r":13,"a":17,"b":18,"v":-0.04},{"r":13,"a":18,"b":19,"v":0.028},{"r":13,"a":19,"b":20,"v":0.018},{"r":13,"a":20,"b":21,"v":0.035},{"r":13,"a":21,"b":22,"v":0.05},{"r":13,"a":22,"b":23,"v":0.035},{"r":13,"a":23,"b":24,"v":-0.04},{"r":13,"a":24,"b":25,"v":-0.015},{"r":13,"a":25,"b":27,"v":0.015},{"r":13,"a":27,"b":28,"v":0.035},{"r":13,"a":28,"b":30,"v":0.025},{"r":13,"a":30,"b":32,"v":0.05},{"r":13,"a":32,"b":33,"v":0.035},{"r":13,"a":33,"b":34,"v":0.018},{"r":13,"a":34,"b":35,"v":0.035},{"r":13,"a":35,"b":36,"v":0.028},{"r":13,"a":36,"b":37,"v":0.01},{"r":13,"a":37,"b":38,"v":-0.005},{"r":13,"a":38,"b":39,"v":0.025},{"r":13,"a":39,"b":40,"v":0.05},{"r":13,"a":40,"b":41,"v":0.01},{"r":14,"a":2,"b":3,"v":0.012},{"r":14,"a":3,"b":4,"v":0.06},{"r":14,"a":4,"b":5,"v":0.078},{"r":14,"a":5,"b":6,"v":0.05},{"r":14,"a":6,"b":7,"v":0.035},{"r":14,"a":7,"b":8,"v":-0.025},{"r":14,"a":8,"b":9,"v":0.018},{"r":14,"a":9,"b":12,"v":0.008},{"r":14,"a":12,"b":13,"v":-0.005},{"r":14,"a":13,"b":15,"v":-0.012},{"r":14,"a":15,"b":16,"v":0.038},{"r":14,"a":16,"b":17,"v":0.06},{"r":14,"a":17,"b":18,"v":0.022},{"r":14,"a":18,"b":19,"v":-0.005},{"r":14,"a":19,"b":20,"v":0.03},{"r":14,"a":20,"b":21,"v":0.022},{"r":14,"a":21,"b":22,"v":0.055},{"r":14,"a":22,"b":23,"v":0.08},{"r":14,"a":23,"b":24,"v":-0.025},{"r":14,"a":24,"b":25,"v":-0.035},{"r":14,"a":25,"b":27,"v":-0.008},{"r":14,"a":27,"b":28,"v":0.01},{"r":14,"a":28,"b":29,"v":0.042},{"r":14,"a":29,"b":30,"v":0.035},{"r":14,"a":30,"b":32,"v":0.02},{"r":14,"a":32,"b":33,"v":0.035},{"r":14,"a":33,"b":34,"v":0.012},{"r":14,"a":34,"b":35,"v":0.04},{"r":14,"a":35,"b":38,"v":0.012},{"r":14,"a":38,"b":39,"v":0.035},{"r":14,"a":40,"b":41,"v":0.065},{"r":15,"a":1,"b":2,"v":0.025},{"r":15,"a":2,"b":3,"v":0.01},{"r":15,"a":3,"b":5,"v":-0.012},{"r":15,"a":5,"b":6,"v":0.035},{"r":15,"a":6,"b":7,"v":0},{"r":15,"a":7,"b":9,"v":0.035},{"r":15,"a":9,"b":11,"v":0.012},{"r":15,"a":11,"b":12,"v":-0.005},{"r":15,"a":12,"b":14,"v":0.015},{"r":15,"a":14,"b":15,"v":0.03},{"r":15,"a":15,"b":17,"v":0.05},{"r":15,"a":17,"b":18,"v":0.035},{"r":15,"a":18,"b":19,"v":0.06},{"r":15,"a":19,"b":20,"v":0.035},{"r":15,"a":20,"b":21,"v":0.025},{"r":15,"a":21,"b":22,"v":0.012},{"r":15,"a":22,"b":23,"v":0.035},{"r":15,"a":23,"b":24,"v":-0.03},{"r":15,"a":24,"b":25,"v":-0.04},{"r":15,"a":25,"b":28,"v":0.005},{"r":15,"a":28,"b":29,"v":0.015},{"r":15,"a":29,"b":31,"v":-0.012},{"r":15,"a":31,"b":32,"v":0.012},{"r":15,"a":32,"b":34,"v":0.042},{"r":15,"a":34,"b":35,"v":0.015},{"r":15,"a":35,"b":36,"v":0.025},{"r":15,"a":36,"b":37,"v":0.005},{"r":15,"a":37,"b":38,"v":0.02},{"r":16,"a":0,"b":1,"v":0.012},{"r":16,"a":1,"b":2,"v":0.035},{"r":16,"a":2,"b":3,"v":-0.003},{"r":16,"a":3,"b":5,"v":-0.005},{"r":16,"a":5,"b":7,"v":0.01},{"r":16,"a":7,"b":8,"v":-0.03},{"r":16,"a":8,"b":9,"v":0.005},{"r":16,"a":9,"b":10,"v":-0.012},{"r":16,"a":10,"b":11,"v":0.005},{"r":16,"a":11,"b":12,"v":0.02},{"r":16,"a":12,"b":13,"v":0.005},{"r":16,"a":13,"b":14,"v":0.025},{"r":16,"a":14,"b":15,"v":0.035},{"r":16,"a":15,"b":16,"v":0.012},{"r":16,"a":16,"b":17,"v":0.022},{"r":16,"a":17,"b":18,"v":0.005},{"r":16,"a":18,"b":19,"v":-0.015},{"r":16,"a":19,"b":21,"v":0.012},{"r":16,"a":21,"b":24,"v":-0.005},{"r":16,"a":24,"b":25,"v":0.035},{"r":16,"a":25,"b":28,"v":0.028},{"r":16,"a":28,"b":29,"v":0.035},{"r":16,"a":29,"b":30,"v":0.025},{"r":16,"a":30,"b":31,"v":0.005},{"r":16,"a":31,"b":32,"v":0.05},{"r":16,"a":32,"b":33,"v":0.015},{"r":16,"a":33,"b":36,"v":0.005},{"r":16,"a":36,"b":37,"v":0.01},{"r":17,"a":0,"b":1,"v":0.025},{"r":17,"a":1,"b":2,"v":0.09},{"r":17,"a":2,"b":3,"v":0.025},{"r":17,"a":3,"b":4,"v":0.035},{"r":17,"a":4,"b":5,"v":0.012},{"r":17,"a":5,"b":10,"v":0},{"r":17,"a":10,"b":11,"v":0.018},{"r":17,"a":11,"b":13,"v":0.03},{"r":17,"a":13,"b":14,"v":0.018},{"r":17,"a":14,"b":15,"v":0.012},{"r":17,"a":15,"b":16,"v":0.095},{"r":17,"a":16,"b":17,"v":0.035},{"r":17,"a":17,"b":18,"v":0.04},{"r":17,"a":18,"b":19,"v":0.018},{"r":17,"a":19,"b":20,"v":0.005},{"r":17,"a":20,"b":21,"v":-0.028},{"r":17,"a":21,"b":22,"v":0.012},{"r":17,"a":22,"b":24,"v":0.015},{"r":17,"a":24,"b":25,"v":0.012},{"r":17,"a":25,"b":26,"v":0.08},{"r":17,"a":26,"b":27,"v":0.06},{"r":17,"a":27,"b":28,"v":0.025},{"r":17,"a":28,"b":29,"v":0.012},{"r":17,"a":29,"b":30,"v":0.005},{"r":17,"a":30,"b":31,"v":0.035},{"r":17,"a":31,"b":33,"v":0.012},{"r":17,"a":33,"b":34,"v":0.028},{"r":17,"a":34,"b":35,"v":0.035},{"r":17,"a":35,"b":36,"v":0.018},{"r":17,"a":36,"b":37,"v":0},{"r":18,"a":2,"b":3,"v":0.03},{"r":18,"a":3,"b":4,"v":-0.008},{"r":18,"a":4,"b":5,"v":0.025},{"r":18,"a":5,"b":6,"v":0.012},{"r":18,"a":6,"b":7,"v":0.03},{"r":18,"a":7,"b":9,"v":0.012},{"r":18,"a":9,"b":10,"v":-0.003},{"r":18,"a":10,"b":11,"v":0.012},{"r":18,"a":11,"b":12,"v":0},{"r":18,"a":12,"b":13,"v":0.018},{"r":18,"a":13,"b":14,"v":0.035},{"r":18,"a":14,"b":18,"v":0.005},{"r":18,"a":18,"b":20,"v":0},{"r":18,"a":20,"b":24,"v":0.005},{"r":18,"a":24,"b":25,"v":0.055},{"r":18,"a":25,"b":27,"v":0.06},{"r":18,"a":27,"b":28,"v":0.045},{"r":18,"a":28,"b":29,"v":0.035},{"r":18,"a":29,"b":32,"v":0.025},{"r":18,"a":32,"b":33,"v":0.035},{"r":18,"a":33,"b":34,"v":0.018},{"r":18,"a":34,"b":35,"v":-0.015},{"r":18,"a":35,"b":37,"v":-0.01},{"r":19,"a":1,"b":2,"v":0.05},{"r":19,"a":2,"b":3,"v":0.03},{"r":19,"a":3,"b":4,"v":0},{"r":19,"a":4,"b":5,"v":0.045},{"r":19,"a":5,"b":6,"v":0.035},{"r":19,"a":6,"b":7,"v":0.012},{"r":19,"a":7,"b":9,"v":0.025},{"r":19,"a":9,"b":10,"v":0.03},{"r":19,"a":10,"b":11,"v":-0.025},{"r":19,"a":11,"b":13,"v":0.012},{"r":19,"a":13,"b":14,"v":0.035},{"r":19,"a":14,"b":15,"v":0.012},{"r":19,"a":15,"b":16,"v":-0.02},{"r":19,"a":16,"b":17,"v":0.012},{"r":19,"a":17,"b":18,"v":0.045},{"r":19,"a":18,"b":19,"v":0.025},{"r":19,"a":19,"b":20,"v":0.035},{"r":19,"a":20,"b":21,"v":0.005},{"r":19,"a":21,"b":22,"v":0.03},{"r":19,"a":22,"b":23,"v":0.075},{"r":19,"a":23,"b":24,"v":0.01},{"r":19,"a":24,"b":25,"v":0.04},{"r":19,"a":25,"b":26,"v":0.012},{"r":19,"a":26,"b":27,"v":0.035},{"r":19,"a":27,"b":28,"v":0.02},{"r":19,"a":28,"b":29,"v":-0.012},{"r":19,"a":29,"b":30,"v":0},{"r":19,"a":30,"b":31,"v":0.025},{"r":19,"a":31,"b":32,"v":0.055},{"r":19,"a":32,"b":33,"v":0.012},{"r":19,"a":33,"b":34,"v":0.06},{"r":19,"a":34,"b":35,"v":0.04},{"r":19,"a":35,"b":38,"v":0.045},{"r":20,"a":5,"b":6,"v":0.06},{"r":20,"a":6,"b":7,"v":0.035},{"r":20,"a":7,"b":8,"v":0.022},{"r":20,"a":8,"b":9,"v":0},{"r":20,"a":9,"b":10,"v":0.018},{"r":20,"a":10,"b":11,"v":0.002},{"r":20,"a":11,"b":12,"v":0.018},{"r":20,"a":12,"b":13,"v":-0.015},{"r":20,"a":13,"b":14,"v":0.03},{"r":20,"a":14,"b":16,"v":0.015},{"r":20,"a":16,"b":18,"v":0.02},{"r":20,"a":18,"b":19,"v":-0.005},{"r":20,"a":19,"b":21,"v":0.012},{"r":20,"a":21,"b":22,"v":0.045},{"r":20,"a":22,"b":23,"v":0},{"r":20,"a":23,"b":24,"v":0.025},{"r":20,"a":24,"b":25,"v":0.03},{"r":20,"a":25,"b":26,"v":0.012},{"r":20,"a":26,"b":27,"v":0.035},{"r":20,"a":27,"b":29,"v":-0.005},{"r":20,"a":29,"b":30,"v":0.035},{"r":20,"a":30,"b":31,"v":0.055},{"r":20,"a":31,"b":32,"v":0.03},{"r":20,"a":32,"b":33,"v":-0.005},{"r":20,"a":33,"b":34,"v":0.045},{"r":20,"a":34,"b":35,"v":0.012},{"r":20,"a":35,"b":36,"v":0.06},{"r":20,"a":36,"b":37,"v":0.05},{"r":20,"a":37,"b":38,"v":0.005},{"r":21,"a":6,"b":8,"v":0.022},{"r":21,"a":8,"b":9,"v":0.03},{"r":21,"a":9,"b":10,"v":0.06},{"r":21,"a":10,"b":11,"v":0.012},{"r":21,"a":11,"b":12,"v":0.005},{"r":21,"a":12,"b":13,"v":-0.03},{"r":21,"a":13,"b":14,"v":0.012},{"r":21,"a":14,"b":15,"v":0.045},{"r":21,"a":15,"b":16,"v":0.012},{"r":21,"a":16,"b":17,"v":0.06},{"r":21,"a":17,"b":18,"v":0.005},{"r":21,"a":18,"b":19,"v":-0.01},{"r":21,"a":19,"b":21,"v":0.035},{"r":21,"a":21,"b":22,"v":0.06},{"r":21,"a":22,"b":23,"v":0.008},{"r":21,"a":23,"b":24,"v":0.05},{"r":21,"a":24,"b":25,"v":0.07},{"r":21,"a":25,"b":26,"v":0.04},{"r":21,"a":26,"b":27,"v":0.005},{"r":21,"a":27,"b":28,"v":0.012},{"r":21,"a":28,"b":29,"v":0.06},{"r":21,"a":29,"b":30,"v":0.035},{"r":21,"a":30,"b":31,"v":0.085},{"r":21,"a":31,"b":32,"v":-0.095},{"r":21,"a":32,"b":34,"v":0.06},{"r":21,"a":34,"b":35,"v":0.005},{"r":21,"a":35,"b":37,"v":0.04},{"r":22,"a":7,"b":9,"v":0.025},{"r":22,"a":9,"b":10,"v":0.015},{"r":22,"a":10,"b":11,"v":0.035},{"r":22,"a":11,"b":12,"v":0.055},{"r":22,"a":12,"b":13,"v":-0.005},{"r":22,"a":13,"b":14,"v":0.012},{"r":22,"a":14,"b":15,"v":0.07},{"r":22,"a":15,"b":16,"v":-0.055},{"r":22,"a":16,"b":17,"v":0.035},{"r":22,"a":17,"b":18,"v":0.02},{"r":22,"a":18,"b":19,"v":-0.03},{"r":22,"a":19,"b":20,"v":-0.005},{"r":22,"a":20,"b":21,"v":0.04},{"r":22,"a":21,"b":25,"v":0.055},{"r":22,"a":25,"b":26,"v":0.04},{"r":22,"a":26,"b":27,"v":-0.02},{"r":22,"a":27,"b":30,"v":0.02},{"r":22,"a":30,"b":31,"v":0.055},{"r":22,"a":31,"b":32,"v":0.04},{"r":22,"a":32,"b":33,"v":0.005},{"r":22,"a":33,"b":35,"v":0.06},{"r":22,"a":35,"b":36,"v":0.05},{"r":23,"a":10,"b":11,"v":0.035},{"r":23,"a":11,"b":12,"v":0.045},{"r":23,"a":12,"b":13,"v":0.04},{"r":23,"a":13,"b":14,"v":0.015},{"r":23,"a":14,"b":15,"v":-0.015},{"r":23,"a":15,"b":16,"v":0.035},{"r":23,"a":16,"b":17,"v":-0.03},{"r":23,"a":17,"b":18,"v":0.075},{"r":23,"a":18,"b":19,"v":0.025},{"r":23,"a":19,"b":20,"v":0.005},{"r":23,"a":20,"b":21,"v":0.012},{"r":23,"a":21,"b":23,"v":0.055},{"r":23,"a":23,"b":24,"v":0.06},{"r":23,"a":24,"b":25,"v":0},{"r":23,"a":25,"b":26,"v":-0.03},{"r":23,"a":26,"b":27,"v":0.012},{"r":23,"a":27,"b":28,"v":-0.02},{"r":23,"a":28,"b":29,"v":0},{"r":23,"a":29,"b":30,"v":0.035},{"r":23,"a":30,"b":31,"v":0.075},{"r":23,"a":31,"b":32,"v":0.005},{"r":23,"a":32,"b":33,"v":0.075},{"r":23,"a":33,"b":34,"v":0.04},{"r":23,"a":34,"b":35,"v":0.02},{"r":24,"a":9,"b":10,"v":0.005},{"r":24,"a":10,"b":12,"v":0.02},{"r":24,"a":12,"b":13,"v":0.05},{"r":24,"a":13,"b":14,"v":0.085},{"r":24,"a":14,"b":15,"v":0.025},{"r":24,"a":15,"b":17,"v":-0.015},{"r":24,"a":17,"b":18,"v":0.04},{"r":24,"a":18,"b":19,"v":0.015},{"r":24,"a":19,"b":20,"v":0.035},{"r":24,"a":20,"b":21,"v":0.05},{"r":24,"a":21,"b":22,"v":0.09},{"r":24,"a":22,"b":23,"v":0.035},{"r":24,"a":23,"b":24,"v":0.005},{"r":24,"a":24,"b":25,"v":0.035},{"r":24,"a":25,"b":26,"v":0.08},{"r":24,"a":26,"b":28,"v":0.008},{"r":24,"a":28,"b":29,"v":0.015},{"r":24,"a":29,"b":30,"v":0.045},{"r":24,"a":30,"b":31,"v":0.05},{"r":24,"a":32,"b":33,"v":0.05},{"r":24,"a":33,"b":34,"v":0.095},{"r":25,"a":10,"b":11,"v":0.04},{"r":25,"a":11,"b":12,"v":0.012},{"r":25,"a":12,"b":13,"v":0.06},{"r":25,"a":13,"b":14,"v":0.08},{"r":25,"a":14,"b":15,"v":0.035},{"r":25,"a":15,"b":16,"v":0.025},{"r":25,"a":16,"b":17,"v":0.05},{"r":25,"a":17,"b":18,"v":0.07},{"r":25,"a":18,"b":19,"v":-0.02},{"r":25,"a":19,"b":20,"v":0.095},{"r":25,"a":20,"b":21,"v":0.035},{"r":25,"a":21,"b":22,"v":0.085},{"r":25,"a":22,"b":23,"v":0.095},{"r":25,"a":27,"b":28,"v":0.04},{"r":26,"a":14,"b":16,"v":0.008},{"r":26,"a":16,"b":17,"v":0.085},{"r":26,"a":17,"b":18,"v":0.09},{"r":26,"a":18,"b":19,"v":0.04},{"r":26,"a":22,"b":23,"v":0.025}],"C":[{"r":0,"a":21,"b":22,"v":0.2},{"r":0,"a":22,"b":23,"v":0.36},{"r":0,"a":23,"b":24,"v":0.32},{"r":0,"a":24,"b":25,"v":0.27},{"r":0,"a":25,"b":26,"v":0.46},{"r":0,"a":26,"b":27,"v":0.29},{"r":1,"a":15,"b":16,"v":0.38},{"r":1,"a":16,"b":17,"v":0.2},{"r":1,"a":17,"b":19,"v":0.45},{"r":1,"a":20,"b":21,"v":0.52},{"r":1,"a":21,"b":22,"v":0.46},{"r":1,"a":22,"b":23,"v":0.28},{"r":1,"a":23,"b":25,"v":0.2},{"r":1,"a":25,"b":26,"v":0.47},{"r":1,"a":26,"b":28,"v":0.39},{"r":1,"a":28,"b":29,"v":0.28},{"r":1,"a":29,"b":30,"v":0.42},{"r":2,"a":13,"b":14,"v":0.2},{"r":2,"a":15,"b":16,"v":0.46},{"r":2,"a":16,"b":18,"v":0.4},{"r":2,"a":18,"b":19,"v":0.27},{"r":2,"a":19,"b":20,"v":0.2},{"r":2,"a":20,"b":21,"v":0.27},{"r":2,"a":21,"b":23,"v":0.33},{"r":2,"a":23,"b":24,"v":0.28},{"r":2,"a":24,"b":25,"v":0.36},{"r":2,"a":25,"b":26,"v":0.4},{"r":2,"a":26,"b":27,"v":0.47},{"r":2,"a":27,"b":28,"v":0.41},{"r":2,"a":28,"b":29,"v":0.47},{"r":2,"a":29,"b":31,"v":0.24},{"r":3,"a":7,"b":8,"v":0.22},{"r":3,"a":8,"b":9,"v":0.1},{"r":3,"a":9,"b":10,"v":0.12},{"r":3,"a":10,"b":11,"v":0.17},{"r":3,"a":11,"b":12,"v":0.25},{"r":3,"a":12,"b":14,"v":0.3},{"r":3,"a":14,"b":15,"v":0.33},{"r":3,"a":15,"b":16,"v":0.58},{"r":3,"a":16,"b":18,"v":0.25},{"r":3,"a":18,"b":19,"v":0.22},{"r":3,"a":19,"b":20,"v":0.13},{"r":3,"a":20,"b":23,"v":0.19},{"r":3,"a":23,"b":24,"v":0.29},{"r":3,"a":24,"b":25,"v":0.46},{"r":3,"a":25,"b":27,"v":0.38},{"r":3,"a":27,"b":28,"v":0.41},{"r":3,"a":28,"b":29,"v":0.33},{"r":3,"a":29,"b":30,"v":0.26},{"r":3,"a":30,"b":32,"v":0.37},{"r":3,"a":32,"b":33,"v":0.55},{"r":4,"a":6,"b":7,"v":0.17},{"r":4,"a":7,"b":8,"v":0.22},{"r":4,"a":8,"b":9,"v":0.28},{"r":4,"a":9,"b":10,"v":0.36},{"r":4,"a":10,"b":12,"v":0.26},{"r":4,"a":12,"b":13,"v":0.43},{"r":4,"a":13,"b":14,"v":0.36},{"r":4,"a":14,"b":17,"v":0.24},{"r":4,"a":17,"b":18,"v":0.17},{"r":4,"a":18,"b":20,"v":0.2},{"r":4,"a":20,"b":21,"v":0.14},{"r":4,"a":21,"b":22,"v":0.2},{"r":4,"a":22,"b":23,"v":0.17},{"r":4,"a":23,"b":24,"v":0.26},{"r":4,"a":24,"b":25,"v":0.2},{"r":4,"a":25,"b":28,"v":0.31},{"r":4,"a":28,"b":31,"v":0.23},{"r":4,"a":31,"b":32,"v":0.35},{"r":4,"a":32,"b":33,"v":0.24},{"r":4,"a":33,"b":34,"v":0.28},{"r":4,"a":34,"b":36,"v":0.22},{"r":5,"a":5,"b":6,"v":0.27},{"r":5,"a":6,"b":7,"v":0.2},{"r":5,"a":7,"b":8,"v":0.25},{"r":5,"a":8,"b":9,"v":0.15},{"r":5,"a":9,"b":10,"v":0.24},{"r":5,"a":10,"b":11,"v":0.2},{"r":5,"a":11,"b":12,"v":0.25},{"r":5,"a":12,"b":13,"v":0.3},{"r":5,"a":13,"b":14,"v":0.36},{"r":5,"a":14,"b":15,"v":0.28},{"r":5,"a":15,"b":17,"v":0.18},{"r":5,"a":17,"b":20,"v":0.29},{"r":5,"a":20,"b":21,"v":0.2},{"r":5,"a":21,"b":22,"v":0.27},{"r":5,"a":22,"b":24,"v":0.17},{"r":5,"a":24,"b":26,"v":0.26},{"r":5,"a":26,"b":27,"v":0.2},{"r":5,"a":27,"b":28,"v":0.18},{"r":5,"a":28,"b":29,"v":0.2},{"r":5,"a":29,"b":30,"v":0.22},{"r":5,"a":30,"b":32,"v":0.34},{"r":5,"a":32,"b":36,"v":0.26},{"r":6,"a":4,"b":6,"v":0.2},{"r":6,"a":6,"b":7,"v":0.22},{"r":6,"a":7,"b":8,"v":0.25},{"r":6,"a":8,"b":9,"v":0.44},{"r":6,"a":9,"b":10,"v":0.58},{"r":6,"a":10,"b":11,"v":0.38},{"r":6,"a":11,"b":12,"v":0.2},{"r":6,"a":12,"b":13,"v":0.46},{"r":6,"a":13,"b":14,"v":0.15},{"r":6,"a":14,"b":16,"v":0.3},{"r":6,"a":16,"b":17,"v":0.2},{"r":6,"a":17,"b":19,"v":0.33},{"r":6,"a":19,"b":22,"v":0.38},{"r":6,"a":22,"b":23,"v":0.35},{"r":6,"a":23,"b":24,"v":0.22},{"r":6,"a":24,"b":26,"v":0.27},{"r":6,"a":26,"b":27,"v":0.33},{"r":6,"a":27,"b":28,"v":0.26},{"r":6,"a":28,"b":29,"v":0.22},{"r":6,"a":29,"b":30,"v":0.18},{"r":6,"a":30,"b":31,"v":0.24},{"r":6,"a":31,"b":33,"v":0.3},{"r":6,"a":33,"b":35,"v":0.43},{"r":6,"a":35,"b":36,"v":0.24},{"r":7,"a":2,"b":3,"v":0.12},{"r":7,"a":3,"b":4,"v":0.22},{"r":7,"a":4,"b":5,"v":0.16},{"r":7,"a":5,"b":6,"v":0.45},{"r":7,"a":6,"b":7,"v":0.33},{"r":7,"a":7,"b":8,"v":0.28},{"r":7,"a":8,"b":9,"v":0.41},{"r":7,"a":9,"b":10,"v":0.22},{"r":7,"a":10,"b":11,"v":0.33},{"r":7,"a":11,"b":12,"v":0.45},{"r":7,"a":12,"b":13,"v":0.33},{"r":7,"a":13,"b":15,"v":0.37},{"r":7,"a":15,"b":16,"v":0.28},{"r":7,"a":16,"b":17,"v":0.2},{"r":7,"a":17,"b":18,"v":0.16},{"r":7,"a":18,"b":19,"v":0.2},{"r":7,"a":19,"b":21,"v":0.24},{"r":7,"a":21,"b":22,"v":0.2},{"r":7,"a":22,"b":24,"v":0.16},{"r":7,"a":24,"b":25,"v":0.18},{"r":7,"a":25,"b":26,"v":0.27},{"r":7,"a":26,"b":27,"v":0.2},{"r":7,"a":27,"b":28,"v":0.28},{"r":7,"a":28,"b":29,"v":0.07},{"r":7,"a":29,"b":30,"v":0.14},{"r":7,"a":30,"b":31,"v":0.2},{"r":7,"a":31,"b":32,"v":0.25},{"r":7,"a":32,"b":33,"v":0.37},{"r":7,"a":33,"b":34,"v":0.3},{"r":7,"a":34,"b":35,"v":0.22},{"r":7,"a":35,"b":36,"v":0.2},{"r":7,"a":36,"b":37,"v":0.24},{"r":8,"a":1,"b":2,"v":0.2},{"r":8,"a":2,"b":3,"v":0.22},{"r":8,"a":3,"b":4,"v":0.17},{"r":8,"a":4,"b":5,"v":0.12},{"r":8,"a":5,"b":7,"v":0.16},{"r":8,"a":7,"b":8,"v":0.12},{"r":8,"a":8,"b":9,"v":0.2},{"r":8,"a":9,"b":10,"v":0.16},{"r":8,"a":10,"b":11,"v":0.1},{"r":8,"a":11,"b":12,"v":0.33},{"r":8,"a":12,"b":14,"v":0.2},{"r":8,"a":14,"b":15,"v":0.15},{"r":8,"a":15,"b":16,"v":0.13},{"r":8,"a":16,"b":17,"v":0.18},{"r":8,"a":17,"b":18,"v":0.3},{"r":8,"a":18,"b":20,"v":0.33},{"r":8,"a":20,"b":21,"v":0.36},{"r":8,"a":21,"b":22,"v":0.34},{"r":8,"a":22,"b":23,"v":0.3},{"r":8,"a":23,"b":24,"v":0.2},{"r":8,"a":24,"b":25,"v":0.22},{"r":8,"a":25,"b":26,"v":0.18},{"r":8,"a":26,"b":28,"v":0.12},{"r":8,"a":28,"b":29,"v":0.15},{"r":8,"a":29,"b":30,"v":0.28},{"r":8,"a":30,"b":32,"v":0.3},{"r":8,"a":32,"b":33,"v":0.24},{"r":8,"a":33,"b":35,"v":0.27},{"r":8,"a":35,"b":36,"v":0.26},{"r":8,"a":36,"b":37,"v":0.27},{"r":9,"a":1,"b":2,"v":0.07},{"r":9,"a":2,"b":3,"v":0.28},{"r":9,"a":3,"b":6,"v":0.13},{"r":9,"a":6,"b":7,"v":0.17},{"r":9,"a":7,"b":8,"v":0.13},{"r":9,"a":8,"b":9,"v":0.16},{"r":9,"a":9,"b":10,"v":0.2},{"r":9,"a":10,"b":11,"v":0.27},{"r":9,"a":11,"b":12,"v":0.13},{"r":9,"a":12,"b":13,"v":0.2},{"r":9,"a":13,"b":14,"v":0.17},{"r":9,"a":14,"b":15,"v":0.11},{"r":9,"a":15,"b":17,"v":0.13},{"r":9,"a":17,"b":19,"v":0.2},{"r":9,"a":19,"b":20,"v":0.15},{"r":9,"a":20,"b":21,"v":0.2},{"r":9,"a":21,"b":22,"v":0.29},{"r":9,"a":22,"b":23,"v":0.18},{"r":9,"a":23,"b":25,"v":0.22},{"r":9,"a":25,"b":26,"v":0.2},{"r":9,"a":26,"b":27,"v":0.15},{"r":9,"a":27,"b":29,"v":0.16},{"r":9,"a":29,"b":30,"v":0.1},{"r":9,"a":30,"b":31,"v":0.27},{"r":9,"a":31,"b":33,"v":0.16},{"r":9,"a":33,"b":35,"v":0.13},{"r":9,"a":35,"b":36,"v":0.28},{"r":9,"a":36,"b":37,"v":0.33},{"r":10,"a":1,"b":3,"v":0.13},{"r":10,"a":3,"b":4,"v":0.2},{"r":10,"a":4,"b":5,"v":0.05},{"r":10,"a":5,"b":6,"v":0.13},{"r":10,"a":6,"b":7,"v":0.12},{"r":10,"a":7,"b":8,"v":0.08},{"r":10,"a":8,"b":10,"v":0.12},{"r":10,"a":10,"b":11,"v":0.14},{"r":10,"a":11,"b":12,"v":0.2},{"r":10,"a":12,"b":13,"v":0.18},{"r":10,"a":13,"b":14,"v":0.09},{"r":10,"a":14,"b":15,"v":0.18},{"r":10,"a":15,"b":17,"v":0.22},{"r":10,"a":17,"b":18,"v":0.24},{"r":10,"a":18,"b":20,"v":0.17},{"r":10,"a":20,"b":21,"v":0.2},{"r":10,"a":21,"b":22,"v":0.18},{"r":10,"a":22,"b":23,"v":0.14},{"r":10,"a":23,"b":25,"v":0.24},{"r":10,"a":25,"b":28,"v":0.15},{"r":10,"a":28,"b":29,"v":0.14},{"r":10,"a":29,"b":30,"v":0.28},{"r":10,"a":30,"b":31,"v":0.08},{"r":10,"a":31,"b":32,"v":0.22},{"r":10,"a":32,"b":33,"v":0.17},{"r":10,"a":33,"b":34,"v":0.33},{"r":10,"a":34,"b":35,"v":0.2},{"r":10,"a":35,"b":36,"v":0.36},{"r":10,"a":36,"b":37,"v":0.23},{"r":11,"a":1,"b":2,"v":0.1},{"r":11,"a":2,"b":3,"v":0.03},{"r":11,"a":3,"b":4,"v":0.1},{"r":11,"a":4,"b":5,"v":0.27},{"r":11,"a":5,"b":6,"v":0.06},{"r":11,"a":6,"b":7,"v":0.15},{"r":11,"a":7,"b":8,"v":0.12},{"r":11,"a":8,"b":9,"v":0.09},{"r":11,"a":9,"b":10,"v":0.16},{"r":11,"a":10,"b":11,"v":0.1},{"r":11,"a":11,"b":12,"v":0.14},{"r":11,"a":12,"b":13,"v":0.27},{"r":11,"a":13,"b":14,"v":0.3},{"r":11,"a":14,"b":15,"v":0.18},{"r":11,"a":15,"b":16,"v":0.26},{"r":11,"a":16,"b":17,"v":0.24},{"r":11,"a":17,"b":18,"v":0.2},{"r":11,"a":18,"b":19,"v":0.1},{"r":11,"a":19,"b":20,"v":0.18},{"r":11,"a":20,"b":21,"v":0.28},{"r":11,"a":21,"b":22,"v":0.23},{"r":11,"a":22,"b":23,"v":0.3},{"r":11,"a":23,"b":24,"v":0.35},{"r":11,"a":24,"b":25,"v":0.3},{"r":11,"a":25,"b":28,"v":0.2},{"r":11,"a":28,"b":29,"v":0.28},{"r":11,"a":29,"b":30,"v":0.32},{"r":11,"a":30,"b":31,"v":0.27},{"r":11,"a":31,"b":33,"v":0.2},{"r":11,"a":33,"b":34,"v":0.3},{"r":11,"a":34,"b":35,"v":0.43},{"r":11,"a":35,"b":36,"v":0.36},{"r":11,"a":36,"b":37,"v":0.58},{"r":11,"a":37,"b":38,"v":0.24},{"r":12,"a":1,"b":2,"v":0.12},{"r":12,"a":2,"b":3,"v":0.16},{"r":12,"a":3,"b":4,"v":0.2},{"r":12,"a":4,"b":5,"v":0.27},{"r":12,"a":5,"b":6,"v":0.1},{"r":12,"a":6,"b":7,"v":0.14},{"r":12,"a":7,"b":8,"v":0.06},{"r":12,"a":8,"b":9,"v":0.05},{"r":12,"a":9,"b":10,"v":0.24},{"r":12,"a":10,"b":11,"v":0.15},{"r":12,"a":11,"b":12,"v":0.2},{"r":12,"a":12,"b":13,"v":0.24},{"r":12,"a":13,"b":14,"v":0.32},{"r":12,"a":14,"b":15,"v":0.24},{"r":12,"a":15,"b":16,"v":0.13},{"r":12,"a":16,"b":17,"v":0.23},{"r":12,"a":17,"b":20,"v":0.15},{"r":12,"a":20,"b":21,"v":0.2},{"r":12,"a":21,"b":22,"v":0.08},{"r":12,"a":22,"b":23,"v":0.45},{"r":12,"a":23,"b":24,"v":0.22},{"r":12,"a":24,"b":25,"v":0.14},{"r":12,"a":25,"b":28,"v":0.24},{"r":12,"a":28,"b":29,"v":0.27},{"r":12,"a":29,"b":31,"v":0.38},{"r":12,"a":31,"b":32,"v":0.27},{"r":12,"a":32,"b":33,"v":0.2},{"r":12,"a":33,"b":34,"v":0.3},{"r":12,"a":34,"b":35,"v":0.33},{"r":12,"a":35,"b":36,"v":0.42},{"r":12,"a":36,"b":37,"v":0.15},{"r":12,"a":37,"b":38,"v":0.27},{"r":12,"a":38,"b":39,"v":0.1},{"r":13,"a":1,"b":2,"v":0.27},{"r":13,"a":2,"b":4,"v":0.14},{"r":13,"a":4,"b":5,"v":0.22},{"r":13,"a":5,"b":6,"v":0.17},{"r":13,"a":6,"b":7,"v":0.14},{"r":13,"a":7,"b":8,"v":0.13},{"r":13,"a":8,"b":9,"v":0.22},{"r":13,"a":9,"b":10,"v":0.27},{"r":13,"a":10,"b":11,"v":0.22},{"r":13,"a":11,"b":12,"v":0.2},{"r":13,"a":12,"b":13,"v":0.3},{"r":13,"a":13,"b":14,"v":0.27},{"r":13,"a":14,"b":15,"v":0.2},{"r":13,"a":15,"b":17,"v":0.28},{"r":13,"a":17,"b":18,"v":0.17},{"r":13,"a":18,"b":19,"v":0.16},{"r":13,"a":19,"b":20,"v":0.1},{"r":13,"a":20,"b":21,"v":0.2},{"r":13,"a":21,"b":22,"v":0.3},{"r":13,"a":22,"b":25,"v":0.32},{"r":13,"a":25,"b":26,"v":0.3},{"r":13,"a":26,"b":27,"v":0.25},{"r":13,"a":27,"b":28,"v":0.13},{"r":13,"a":28,"b":29,"v":0.25},{"r":13,"a":29,"b":30,"v":0.47},{"r":13,"a":30,"b":31,"v":0.33},{"r":13,"a":31,"b":32,"v":0.2},{"r":13,"a":32,"b":33,"v":0.15},{"r":13,"a":33,"b":34,"v":0.14},{"r":13,"a":34,"b":35,"v":0.37},{"r":13,"a":35,"b":36,"v":0.2},{"r":13,"a":36,"b":37,"v":0.08},{"r":13,"a":37,"b":40,"v":0.22},{"r":13,"a":40,"b":41,"v":0.4},{"r":14,"a":2,"b":5,"v":0.33},{"r":14,"a":5,"b":6,"v":0.45},{"r":14,"a":6,"b":8,"v":0.33},{"r":14,"a":8,"b":9,"v":0.18},{"r":14,"a":9,"b":11,"v":0.12},{"r":14,"a":11,"b":12,"v":0.17},{"r":14,"a":12,"b":14,"v":0.2},{"r":14,"a":14,"b":15,"v":0.4},{"r":14,"a":15,"b":16,"v":0.15},{"r":14,"a":16,"b":18,"v":0.33},{"r":14,"a":18,"b":19,"v":0.3},{"r":14,"a":19,"b":20,"v":0.17},{"r":14,"a":20,"b":22,"v":0.24},{"r":14,"a":22,"b":23,"v":0.27},{"r":14,"a":23,"b":24,"v":0.4},{"r":14,"a":24,"b":25,"v":0.36},{"r":14,"a":25,"b":26,"v":0.2},{"r":14,"a":26,"b":27,"v":0.17},{"r":14,"a":27,"b":29,"v":0.25},{"r":14,"a":29,"b":31,"v":0.24},{"r":14,"a":31,"b":32,"v":0.3},{"r":14,"a":32,"b":33,"v":0.14},{"r":14,"a":33,"b":34,"v":0.17},{"r":14,"a":34,"b":35,"v":0.08},{"r":14,"a":35,"b":36,"v":0.3},{"r":14,"a":36,"b":37,"v":0.2},{"r":14,"a":37,"b":38,"v":0.18},{"r":14,"a":38,"b":39,"v":0.3},{"r":14,"a":40,"b":41,"v":0.36},{"r":15,"a":1,"b":2,"v":0.33},{"r":15,"a":2,"b":4,"v":0.26},{"r":15,"a":4,"b":5,"v":0.33},{"r":15,"a":5,"b":6,"v":0.36},{"r":15,"a":6,"b":7,"v":0.3},{"r":15,"a":7,"b":8,"v":0.33},{"r":15,"a":8,"b":9,"v":0.17},{"r":15,"a":9,"b":10,"v":0.23},{"r":15,"a":10,"b":11,"v":0.18},{"r":15,"a":11,"b":12,"v":0.13},{"r":15,"a":12,"b":13,"v":0.05},{"r":15,"a":13,"b":14,"v":0.2},{"r":15,"a":14,"b":15,"v":0.23},{"r":15,"a":15,"b":18,"v":0.33},{"r":15,"a":18,"b":21,"v":0.37},{"r":15,"a":21,"b":22,"v":0.2},{"r":15,"a":22,"b":23,"v":0.28},{"r":15,"a":23,"b":24,"v":0.37},{"r":15,"a":24,"b":26,"v":0.18},{"r":15,"a":26,"b":27,"v":0.2},{"r":15,"a":27,"b":28,"v":0.14},{"r":15,"a":28,"b":30,"v":0.3},{"r":15,"a":30,"b":31,"v":0.33},{"r":15,"a":31,"b":32,"v":0.16},{"r":15,"a":32,"b":33,"v":0.22},{"r":15,"a":33,"b":35,"v":0.3},{"r":15,"a":35,"b":36,"v":0.2},{"r":15,"a":36,"b":37,"v":0.18},{"r":15,"a":37,"b":38,"v":0.13},{"r":16,"a":0,"b":1,"v":0.33},{"r":16,"a":1,"b":2,"v":0.28},{"r":16,"a":2,"b":4,"v":0.25},{"r":16,"a":4,"b":5,"v":0.27},{"r":16,"a":5,"b":8,"v":0.3},{"r":16,"a":8,"b":9,"v":0.23},{"r":16,"a":9,"b":10,"v":0.16},{"r":16,"a":10,"b":11,"v":0.2},{"r":16,"a":11,"b":12,"v":0.16},{"r":16,"a":12,"b":14,"v":0.14},{"r":16,"a":14,"b":15,"v":0.25},{"r":16,"a":15,"b":16,"v":0.28},{"r":16,"a":16,"b":17,"v":0.45},{"r":16,"a":17,"b":18,"v":0.33},{"r":16,"a":18,"b":20,"v":0.23},{"r":16,"a":20,"b":21,"v":0.18},{"r":16,"a":21,"b":22,"v":0.27},{"r":16,"a":22,"b":23,"v":0.19},{"r":16,"a":23,"b":24,"v":0.28},{"r":16,"a":24,"b":25,"v":0.38},{"r":16,"a":25,"b":27,"v":0.2},{"r":16,"a":27,"b":29,"v":0.27},{"r":16,"a":29,"b":31,"v":0.32},{"r":16,"a":31,"b":32,"v":0.13},{"r":16,"a":32,"b":33,"v":0.34},{"r":16,"a":33,"b":34,"v":0.32},{"r":16,"a":34,"b":36,"v":0.18},{"r":16,"a":36,"b":37,"v":0.1},{"r":16,"a":37,"b":38,"v":0.3},{"r":17,"a":0,"b":1,"v":0.33},{"r":17,"a":1,"b":2,"v":0.39},{"r":17,"a":2,"b":3,"v":0.25},{"r":17,"a":3,"b":4,"v":0.22},{"r":17,"a":4,"b":7,"v":0.19},{"r":17,"a":7,"b":9,"v":0.35},{"r":17,"a":9,"b":10,"v":0.18},{"r":17,"a":10,"b":11,"v":0.14},{"r":17,"a":11,"b":12,"v":0.17},{"r":17,"a":12,"b":13,"v":0.07},{"r":17,"a":13,"b":15,"v":0.2},{"r":17,"a":15,"b":16,"v":0.48},{"r":17,"a":16,"b":17,"v":0.33},{"r":17,"a":17,"b":18,"v":0.36},{"r":17,"a":18,"b":19,"v":0.27},{"r":17,"a":19,"b":20,"v":0.22},{"r":17,"a":20,"b":21,"v":0.17},{"r":17,"a":21,"b":23,"v":0.22},{"r":17,"a":23,"b":24,"v":0.24},{"r":17,"a":24,"b":25,"v":0.34},{"r":17,"a":25,"b":26,"v":0.4},{"r":17,"a":26,"b":27,"v":0.28},{"r":17,"a":27,"b":29,"v":0.31},{"r":17,"a":29,"b":31,"v":0.27},{"r":17,"a":31,"b":32,"v":0.33},{"r":17,"a":32,"b":33,"v":0.22},{"r":17,"a":33,"b":34,"v":0.2},{"r":17,"a":34,"b":35,"v":0.24},{"r":17,"a":35,"b":36,"v":0.2},{"r":17,"a":36,"b":37,"v":0.25},{"r":17,"a":37,"b":38,"v":0.42},{"r":18,"a":2,"b":4,"v":0.27},{"r":18,"a":4,"b":5,"v":0.24},{"r":18,"a":5,"b":6,"v":0.26},{"r":18,"a":6,"b":7,"v":0.23},{"r":18,"a":7,"b":8,"v":0.28},{"r":18,"a":8,"b":9,"v":0.23},{"r":18,"a":9,"b":11,"v":0.14},{"r":18,"a":11,"b":13,"v":0.18},{"r":18,"a":13,"b":15,"v":0.28},{"r":18,"a":15,"b":16,"v":0.38},{"r":18,"a":16,"b":17,"v":0.35},{"r":18,"a":17,"b":18,"v":0.27},{"r":18,"a":18,"b":19,"v":0.2},{"r":18,"a":19,"b":23,"v":0.17},{"r":18,"a":23,"b":25,"v":0.29},{"r":18,"a":25,"b":26,"v":0.38},{"r":18,"a":26,"b":27,"v":0.45},{"r":18,"a":27,"b":28,"v":0.26},{"r":18,"a":28,"b":29,"v":0.36},{"r":18,"a":29,"b":30,"v":0.33},{"r":18,"a":30,"b":32,"v":0.27},{"r":18,"a":32,"b":33,"v":0.2},{"r":18,"a":33,"b":34,"v":0.34},{"r":18,"a":34,"b":35,"v":0.16},{"r":18,"a":35,"b":36,"v":0.26},{"r":19,"a":1,"b":2,"v":0.47},{"r":19,"a":2,"b":3,"v":0.2},{"r":19,"a":3,"b":5,"v":0.33},{"r":19,"a":5,"b":6,"v":0.36},{"r":19,"a":6,"b":7,"v":0.1},{"r":19,"a":7,"b":8,"v":0.2},{"r":19,"a":8,"b":9,"v":0.27},{"r":19,"a":9,"b":10,"v":0.2},{"r":19,"a":10,"b":11,"v":0.13},{"r":19,"a":11,"b":12,"v":0.17},{"r":19,"a":12,"b":15,"v":0.2},{"r":19,"a":15,"b":16,"v":0.18},{"r":19,"a":16,"b":17,"v":0.1},{"r":19,"a":17,"b":18,"v":0.3},{"r":19,"a":18,"b":19,"v":0.2},{"r":19,"a":19,"b":20,"v":0.28},{"r":19,"a":20,"b":22,"v":0.36},{"r":19,"a":22,"b":25,"v":0.38},{"r":19,"a":25,"b":26,"v":0.35},{"r":19,"a":26,"b":27,"v":0.23},{"r":19,"a":27,"b":28,"v":0.27},{"r":19,"a":28,"b":30,"v":0.2},{"r":19,"a":30,"b":31,"v":0.28},{"r":19,"a":31,"b":32,"v":0.2},{"r":19,"a":32,"b":33,"v":0.33},{"r":19,"a":33,"b":34,"v":0.1},{"r":19,"a":34,"b":35,"v":0.25},{"r":19,"a":35,"b":36,"v":0.2},{"r":19,"a":36,"b":37,"v":0.27},{"r":19,"a":37,"b":38,"v":0.35},{"r":20,"a":5,"b":6,"v":0.23},{"r":20,"a":6,"b":7,"v":0.2},{"r":20,"a":7,"b":8,"v":0.14},{"r":20,"a":8,"b":9,"v":0.02},{"r":20,"a":9,"b":10,"v":0.1},{"r":20,"a":10,"b":11,"v":0.15},{"r":20,"a":11,"b":12,"v":0.27},{"r":20,"a":12,"b":13,"v":0.36},{"r":20,"a":13,"b":14,"v":0.22},{"r":20,"a":14,"b":15,"v":0.18},{"r":20,"a":15,"b":16,"v":0.15},{"r":20,"a":16,"b":17,"v":0.22},{"r":20,"a":17,"b":18,"v":0.2},{"r":20,"a":18,"b":19,"v":0.16},{"r":20,"a":19,"b":20,"v":0.12},{"r":20,"a":20,"b":21,"v":0.19},{"r":20,"a":21,"b":22,"v":0.27},{"r":20,"a":22,"b":23,"v":0.2},{"r":20,"a":23,"b":24,"v":0.17},{"r":20,"a":24,"b":25,"v":0.25},{"r":20,"a":25,"b":26,"v":0.15},{"r":20,"a":26,"b":27,"v":0.2},{"r":20,"a":27,"b":28,"v":0.27},{"r":20,"a":28,"b":29,"v":0.22},{"r":20,"a":29,"b":30,"v":0.46},{"r":20,"a":30,"b":31,"v":0.27},{"r":20,"a":31,"b":33,"v":0.33},{"r":20,"a":33,"b":34,"v":0.27},{"r":20,"a":34,"b":35,"v":0.1},{"r":20,"a":35,"b":36,"v":0.27},{"r":20,"a":36,"b":37,"v":0.2},{"r":20,"a":37,"b":38,"v":0.27},{"r":21,"a":6,"b":7,"v":0.2},{"r":21,"a":7,"b":8,"v":0.15},{"r":21,"a":8,"b":9,"v":0.2},{"r":21,"a":9,"b":10,"v":0.1},{"r":21,"a":10,"b":11,"v":0.18},{"r":21,"a":11,"b":12,"v":0.13},{"r":21,"a":12,"b":13,"v":0.2},{"r":21,"a":13,"b":14,"v":0.22},{"r":21,"a":14,"b":15,"v":0.45},{"r":21,"a":15,"b":16,"v":0.32},{"r":21,"a":16,"b":17,"v":0.38},{"r":21,"a":17,"b":18,"v":0.24},{"r":21,"a":18,"b":22,"v":0.2},{"r":21,"a":22,"b":23,"v":0.24},{"r":21,"a":23,"b":24,"v":0.22},{"r":21,"a":24,"b":25,"v":0.2},{"r":21,"a":25,"b":26,"v":0.45},{"r":21,"a":26,"b":28,"v":0.2},{"r":21,"a":28,"b":31,"v":0.31},{"r":21,"a":31,"b":32,"v":0.37},{"r":21,"a":32,"b":33,"v":0.39},{"r":21,"a":33,"b":34,"v":0.5},{"r":21,"a":34,"b":36,"v":0.3},{"r":21,"a":36,"b":37,"v":0.2},{"r":22,"a":7,"b":8,"v":0.12},{"r":22,"a":8,"b":9,"v":0.23},{"r":22,"a":9,"b":12,"v":0.16},{"r":22,"a":12,"b":13,"v":0.33},{"r":22,"a":13,"b":14,"v":0.25},{"r":22,"a":14,"b":15,"v":0.38},{"r":22,"a":15,"b":16,"v":0.3},{"r":22,"a":16,"b":18,"v":0.24},{"r":22,"a":18,"b":21,"v":0.2},{"r":22,"a":21,"b":22,"v":0.37},{"r":22,"a":22,"b":23,"v":0.27},{"r":22,"a":23,"b":24,"v":0.36},{"r":22,"a":24,"b":25,"v":0.22},{"r":22,"a":25,"b":26,"v":0.5},{"r":22,"a":26,"b":27,"v":0.42},{"r":22,"a":27,"b":28,"v":0.12},{"r":22,"a":28,"b":29,"v":0.14},{"r":22,"a":29,"b":30,"v":0.37},{"r":22,"a":30,"b":31,"v":0.45},{"r":22,"a":31,"b":33,"v":0.22},{"r":22,"a":33,"b":34,"v":0.36},{"r":22,"a":34,"b":35,"v":0.45},{"r":22,"a":35,"b":36,"v":0.18},{"r":23,"a":10,"b":12,"v":0.15},{"r":23,"a":12,"b":13,"v":0.27},{"r":23,"a":13,"b":14,"v":0.18},{"r":23,"a":14,"b":15,"v":0.2},{"r":23,"a":15,"b":16,"v":0.15},{"r":23,"a":16,"b":17,"v":0.17},{"r":23,"a":17,"b":18,"v":0.37},{"r":23,"a":18,"b":19,"v":0.22},{"r":23,"a":19,"b":20,"v":0.28},{"r":23,"a":20,"b":21,"v":0.34},{"r":23,"a":21,"b":22,"v":0.4},{"r":23,"a":22,"b":23,"v":0.37},{"r":23,"a":23,"b":24,"v":0.42},{"r":23,"a":24,"b":25,"v":0.1},{"r":23,"a":25,"b":26,"v":0.3},{"r":23,"a":26,"b":28,"v":0.2},{"r":23,"a":28,"b":29,"v":0.22},{"r":23,"a":29,"b":31,"v":0.38},{"r":23,"a":31,"b":32,"v":0.24},{"r":23,"a":32,"b":33,"v":0.3},{"r":23,"a":33,"b":34,"v":0.43},{"r":23,"a":34,"b":35,"v":0.46},{"r":24,"a":9,"b":10,"v":0.22},{"r":24,"a":10,"b":12,"v":0.2},{"r":24,"a":12,"b":13,"v":0.23},{"r":24,"a":13,"b":14,"v":0.3},{"r":24,"a":14,"b":15,"v":0.37},{"r":24,"a":15,"b":16,"v":0.26},{"r":24,"a":16,"b":17,"v":0.2},{"r":24,"a":17,"b":19,"v":0.27},{"r":24,"a":19,"b":20,"v":0.45},{"r":24,"a":20,"b":21,"v":0.27},{"r":24,"a":21,"b":22,"v":0.58},{"r":24,"a":22,"b":23,"v":0.5},{"r":24,"a":23,"b":24,"v":0.2},{"r":24,"a":24,"b":25,"v":0.27},{"r":24,"a":25,"b":26,"v":0.42},{"r":24,"a":26,"b":27,"v":0.28},{"r":24,"a":27,"b":28,"v":0.33},{"r":24,"a":28,"b":29,"v":0.17},{"r":24,"a":29,"b":30,"v":0.45},{"r":24,"a":30,"b":31,"v":0.55},{"r":24,"a":32,"b":33,"v":0.3},{"r":24,"a":33,"b":34,"v":0.22},{"r":25,"a":10,"b":11,"v":0.24},{"r":25,"a":11,"b":12,"v":0.13},{"r":25,"a":12,"b":13,"v":0.43},{"r":25,"a":13,"b":14,"v":0.3},{"r":25,"a":14,"b":15,"v":0.36},{"r":25,"a":15,"b":17,"v":0.32},{"r":25,"a":17,"b":18,"v":0.36},{"r":25,"a":18,"b":19,"v":0.38},{"r":25,"a":19,"b":20,"v":0.43},{"r":25,"a":20,"b":21,"v":0.25},{"r":25,"a":21,"b":22,"v":0.3},{"r":25,"a":22,"b":23,"v":0.27},{"r":25,"a":27,"b":28,"v":0.22},{"r":26,"a":14,"b":15,"v":0.43},{"r":26,"a":15,"b":17,"v":0.31},{"r":26,"a":17,"b":18,"v":0.52},{"r":26,"a":18,"b":19,"v":0.45},{"r":26,"a":22,"b":23,"v":0.35}],"D":[{"r":0,"a":21,"b":22,"v":0.02},{"r":0,"a":22,"b":23,"v":0.1},{"r":0,"a":23,"b":24,"v":0.06},{"r":0,"a":24,"b":25,"v":0.09},{"r":0,"a":25,"b":26,"v":0.07},{"r":0,"a":26,"b":27,"v":0.11},{"r":1,"a":15,"b":16,"v":0.11},{"r":1,"a":16,"b":17,"v":0.08},{"r":1,"a":17,"b":18,"v":0.2},{"r":1,"a":18,"b":19,"v":0.12},{"r":1,"a":20,"b":21,"v":0.23},{"r":1,"a":21,"b":22,"v":0.19},{"r":1,"a":22,"b":23,"v":0.09},{"r":1,"a":23,"b":24,"v":0.05},{"r":1,"a":24,"b":25,"v":0.1},{"r":1,"a":25,"b":26,"v":0.12},{"r":1,"a":26,"b":27,"v":0.07},{"r":1,"a":27,"b":28,"v":0.23},{"r":1,"a":28,"b":29,"v":0.1},{"r":1,"a":29,"b":30,"v":0.05},{"r":2,"a":13,"b":14,"v":0.02},{"r":2,"a":15,"b":16,"v":0.09},{"r":2,"a":16,"b":17,"v":0.07},{"r":2,"a":17,"b":19,"v":0.09},{"r":2,"a":19,"b":20,"v":0.07},{"r":2,"a":20,"b":21,"v":0.11},{"r":2,"a":21,"b":22,"v":0.09},{"r":2,"a":22,"b":23,"v":0.1},{"r":2,"a":23,"b":24,"v":0.06},{"r":2,"a":24,"b":26,"v":0.09},{"r":2,"a":26,"b":27,"v":0.16},{"r":2,"a":27,"b":28,"v":0.11},{"r":2,"a":28,"b":29,"v":0.09},{"r":2,"a":29,"b":30,"v":0.11},{"r":2,"a":30,"b":31,"v":0.08},{"r":3,"a":7,"b":8,"v":0.07},{"r":3,"a":8,"b":9,"v":0.03},{"r":3,"a":9,"b":10,"v":0.05},{"r":3,"a":10,"b":13,"v":0.07},{"r":3,"a":13,"b":14,"v":0.08},{"r":3,"a":14,"b":16,"v":0.1},{"r":3,"a":16,"b":17,"v":0.08},{"r":3,"a":17,"b":18,"v":0.06},{"r":3,"a":18,"b":19,"v":0.03},{"r":3,"a":19,"b":20,"v":0.05},{"r":3,"a":20,"b":22,"v":0.08},{"r":3,"a":22,"b":23,"v":0.1},{"r":3,"a":23,"b":24,"v":0.07},{"r":3,"a":24,"b":25,"v":0.11},{"r":3,"a":25,"b":26,"v":0.07},{"r":3,"a":26,"b":27,"v":0.1},{"r":3,"a":27,"b":28,"v":0.08},{"r":3,"a":28,"b":29,"v":0.07},{"r":3,"a":29,"b":30,"v":0.09},{"r":3,"a":30,"b":31,"v":0.08},{"r":3,"a":31,"b":32,"v":0.1},{"r":3,"a":32,"b":33,"v":0.2},{"r":4,"a":6,"b":7,"v":0.16},{"r":4,"a":7,"b":8,"v":0.06},{"r":4,"a":8,"b":9,"v":0.19},{"r":4,"a":9,"b":10,"v":0.11},{"r":4,"a":10,"b":11,"v":0.09},{"r":4,"a":11,"b":12,"v":0.1},{"r":4,"a":12,"b":13,"v":0.08},{"r":4,"a":13,"b":14,"v":0.1},{"r":4,"a":14,"b":16,"v":0.05},{"r":4,"a":16,"b":18,"v":0.09},{"r":4,"a":18,"b":19,"v":0.04},{"r":4,"a":19,"b":20,"v":0.06},{"r":4,"a":20,"b":21,"v":0.03},{"r":4,"a":21,"b":22,"v":0.09},{"r":4,"a":22,"b":23,"v":0.04},{"r":4,"a":23,"b":24,"v":0.08},{"r":4,"a":24,"b":25,"v":0.06},{"r":4,"a":25,"b":26,"v":0.08},{"r":4,"a":26,"b":27,"v":0.05},{"r":4,"a":27,"b":28,"v":0.11},{"r":4,"a":28,"b":29,"v":0.06},{"r":4,"a":29,"b":30,"v":0.08},{"r":4,"a":30,"b":31,"v":0.06},{"r":4,"a":31,"b":32,"v":0.12},{"r":4,"a":32,"b":33,"v":0.04},{"r":4,"a":33,"b":34,"v":0.12},{"r":4,"a":34,"b":35,"v":0.05},{"r":5,"a":5,"b":6,"v":0.09},{"r":5,"a":6,"b":7,"v":0.02},{"r":5,"a":7,"b":9,"v":0.07},{"r":5,"a":9,"b":10,"v":0.02},{"r":5,"a":10,"b":11,"v":0.05},{"r":5,"a":11,"b":12,"v":0.09},{"r":5,"a":12,"b":13,"v":0.11},{"r":5,"a":13,"b":14,"v":0.21},{"r":5,"a":14,"b":15,"v":0.03},{"r":5,"a":15,"b":16,"v":0.02},{"r":5,"a":16,"b":17,"v":0.03},{"r":5,"a":17,"b":18,"v":0.1},{"r":5,"a":18,"b":19,"v":0.06},{"r":5,"a":19,"b":20,"v":0.01},{"r":5,"a":20,"b":21,"v":0.02},{"r":5,"a":21,"b":22,"v":0.06},{"r":5,"a":22,"b":23,"v":0.04},{"r":5,"a":23,"b":24,"v":0.1},{"r":5,"a":24,"b":26,"v":0.07},{"r":5,"a":26,"b":27,"v":0.09},{"r":5,"a":27,"b":28,"v":0.07},{"r":5,"a":28,"b":29,"v":0.04},{"r":5,"a":29,"b":30,"v":0.11},{"r":5,"a":30,"b":32,"v":0.09},{"r":5,"a":32,"b":33,"v":0.05},{"r":5,"a":33,"b":34,"v":0.11},{"r":5,"a":34,"b":35,"v":0.02},{"r":6,"a":4,"b":6,"v":0.03},{"r":6,"a":6,"b":7,"v":0.04},{"r":6,"a":7,"b":8,"v":0.03},{"r":6,"a":8,"b":9,"v":0.06},{"r":6,"a":9,"b":10,"v":0.24},{"r":6,"a":10,"b":11,"v":0.13},{"r":6,"a":11,"b":12,"v":0.02},{"r":6,"a":12,"b":13,"v":0.24},{"r":6,"a":13,"b":14,"v":0.07},{"r":6,"a":14,"b":16,"v":0.09},{"r":6,"a":16,"b":18,"v":0.08},{"r":6,"a":18,"b":20,"v":0.1},{"r":6,"a":20,"b":21,"v":0.07},{"r":6,"a":21,"b":22,"v":0.13},{"r":6,"a":22,"b":23,"v":0.19},{"r":6,"a":23,"b":24,"v":0.09},{"r":6,"a":24,"b":25,"v":0.11},{"r":6,"a":25,"b":26,"v":0.03},{"r":6,"a":26,"b":27,"v":0.04},{"r":6,"a":27,"b":28,"v":0.09},{"r":6,"a":28,"b":30,"v":0.07},{"r":6,"a":30,"b":31,"v":0.11},{"r":6,"a":31,"b":32,"v":0.07},{"r":6,"a":32,"b":33,"v":0.03},{"r":6,"a":33,"b":34,"v":0.08},{"r":6,"a":34,"b":35,"v":0.11},{"r":6,"a":35,"b":36,"v":0.05},{"r":7,"a":2,"b":3,"v":0.03},{"r":7,"a":3,"b":4,"v":0.04},{"r":7,"a":4,"b":6,"v":0.05},{"r":7,"a":6,"b":7,"v":0.08},{"r":7,"a":7,"b":8,"v":0.04},{"r":7,"a":8,"b":9,"v":0.2},{"r":7,"a":9,"b":10,"v":0.07},{"r":7,"a":10,"b":11,"v":0.05},{"r":7,"a":11,"b":12,"v":0.13},{"r":7,"a":12,"b":13,"v":0.09},{"r":7,"a":13,"b":14,"v":0.12},{"r":7,"a":14,"b":15,"v":0.06},{"r":7,"a":15,"b":18,"v":0.05},{"r":7,"a":18,"b":19,"v":0.07},{"r":7,"a":19,"b":20,"v":0.04},{"r":7,"a":20,"b":22,"v":0.08},{"r":7,"a":22,"b":23,"v":0.09},{"r":7,"a":23,"b":24,"v":0.1},{"r":7,"a":24,"b":25,"v":0.08},{"r":7,"a":25,"b":27,"v":0.1},{"r":7,"a":27,"b":28,"v":0.06},{"r":7,"a":28,"b":29,"v":0.02},{"r":7,"a":29,"b":30,"v":0.05},{"r":7,"a":30,"b":31,"v":0.08},{"r":7,"a":31,"b":32,"v":0.09},{"r":7,"a":32,"b":35,"v":0.06},{"r":7,"a":35,"b":36,"v":0.05},{"r":7,"a":36,"b":37,"v":0.04},{"r":8,"a":1,"b":2,"v":0.02},{"r":8,"a":2,"b":3,"v":0.1},{"r":8,"a":3,"b":4,"v":0.05},{"r":8,"a":4,"b":5,"v":0.015},{"r":8,"a":5,"b":6,"v":0.03},{"r":8,"a":6,"b":7,"v":0.02},{"r":8,"a":7,"b":8,"v":0.05},{"r":8,"a":8,"b":9,"v":0.03},{"r":8,"a":9,"b":11,"v":0.025},{"r":8,"a":11,"b":13,"v":0.04},{"r":8,"a":13,"b":14,"v":0.03},{"r":8,"a":14,"b":15,"v":0.05},{"r":8,"a":15,"b":16,"v":0.08},{"r":8,"a":16,"b":17,"v":0.07},{"r":8,"a":17,"b":18,"v":0.05},{"r":8,"a":18,"b":19,"v":0.1},{"r":8,"a":19,"b":20,"v":0.06},{"r":8,"a":20,"b":21,"v":0.12},{"r":8,"a":21,"b":22,"v":0.1},{"r":8,"a":22,"b":23,"v":0.09},{"r":8,"a":23,"b":24,"v":0.06},{"r":8,"a":24,"b":25,"v":0.08},{"r":8,"a":25,"b":26,"v":0.06},{"r":8,"a":26,"b":27,"v":0.04},{"r":8,"a":27,"b":28,"v":0.02},{"r":8,"a":28,"b":29,"v":0.03},{"r":8,"a":29,"b":30,"v":0.1},{"r":8,"a":30,"b":31,"v":0.08},{"r":8,"a":31,"b":32,"v":0.06},{"r":8,"a":32,"b":34,"v":0.07},{"r":8,"a":34,"b":35,"v":0.05},{"r":8,"a":35,"b":36,"v":0.08},{"r":8,"a":36,"b":37,"v":0.09},{"r":9,"a":1,"b":2,"v":0.02},{"r":9,"a":2,"b":3,"v":0.035},{"r":9,"a":3,"b":4,"v":0.05},{"r":9,"a":4,"b":5,"v":0.02},{"r":9,"a":5,"b":6,"v":0.04},{"r":9,"a":6,"b":7,"v":0.03},{"r":9,"a":7,"b":8,"v":0.02},{"r":9,"a":8,"b":10,"v":0.06},{"r":9,"a":10,"b":11,"v":0.07},{"r":9,"a":11,"b":12,"v":0.04},{"r":9,"a":12,"b":14,"v":0.025},{"r":9,"a":14,"b":15,"v":0.04},{"r":9,"a":15,"b":16,"v":0.005},{"r":9,"a":16,"b":17,"v":0.02},{"r":9,"a":17,"b":18,"v":0.03},{"r":9,"a":18,"b":19,"v":0.08},{"r":9,"a":19,"b":20,"v":0.04},{"r":9,"a":20,"b":21,"v":0.02},{"r":9,"a":21,"b":23,"v":0.04},{"r":9,"a":23,"b":24,"v":0.03},{"r":9,"a":24,"b":26,"v":0.09},{"r":9,"a":26,"b":27,"v":0.015},{"r":9,"a":27,"b":28,"v":0.04},{"r":9,"a":28,"b":29,"v":0.06},{"r":9,"a":29,"b":30,"v":0.05},{"r":9,"a":30,"b":31,"v":0.015},{"r":9,"a":31,"b":33,"v":0.04},{"r":9,"a":33,"b":34,"v":0.03},{"r":9,"a":34,"b":35,"v":0.05},{"r":9,"a":35,"b":36,"v":0.01},{"r":9,"a":36,"b":37,"v":0.09},{"r":9,"a":37,"b":38,"v":0.07},{"r":10,"a":1,"b":4,"v":0.01},{"r":10,"a":4,"b":5,"v":0.025},{"r":10,"a":5,"b":9,"v":0.01},{"r":10,"a":9,"b":11,"v":0.015},{"r":10,"a":11,"b":12,"v":0.04},{"r":10,"a":12,"b":13,"v":0.06},{"r":10,"a":13,"b":14,"v":0.04},{"r":10,"a":14,"b":15,"v":0.07},{"r":10,"a":15,"b":16,"v":0.09},{"r":10,"a":16,"b":17,"v":0.05},{"r":10,"a":17,"b":18,"v":0.09},{"r":10,"a":18,"b":19,"v":0.07},{"r":10,"a":19,"b":20,"v":0.03},{"r":10,"a":20,"b":22,"v":0.06},{"r":10,"a":22,"b":23,"v":0.02},{"r":10,"a":23,"b":24,"v":0.06},{"r":10,"a":24,"b":25,"v":0.1},{"r":10,"a":25,"b":26,"v":0.01},{"r":10,"a":26,"b":27,"v":0.07},{"r":10,"a":27,"b":28,"v":0.01},{"r":10,"a":28,"b":29,"v":0.09},{"r":10,"a":29,"b":30,"v":0.03},{"r":10,"a":30,"b":31,"v":0.09},{"r":10,"a":31,"b":32,"v":0.03},{"r":10,"a":32,"b":33,"v":0.01},{"r":10,"a":33,"b":35,"v":0.06},{"r":10,"a":35,"b":36,"v":0.07},{"r":10,"a":36,"b":37,"v":0.12},{"r":10,"a":37,"b":38,"v":0.09},{"r":11,"a":1,"b":2,"v":0.05},{"r":11,"a":2,"b":3,"v":0.04},{"r":11,"a":3,"b":5,"v":0.02},{"r":11,"a":5,"b":6,"v":0.025},{"r":11,"a":6,"b":9,"v":0.02},{"r":11,"a":9,"b":10,"v":0.03},{"r":11,"a":10,"b":12,"v":0.05},{"r":11,"a":12,"b":13,"v":0.07},{"r":11,"a":13,"b":14,"v":0.05},{"r":11,"a":14,"b":15,"v":0.09},{"r":11,"a":15,"b":16,"v":0.06},{"r":11,"a":16,"b":17,"v":0.09},{"r":11,"a":17,"b":18,"v":0.05},{"r":11,"a":18,"b":19,"v":0.045},{"r":11,"a":19,"b":20,"v":0.07},{"r":11,"a":20,"b":21,"v":0.05},{"r":11,"a":21,"b":22,"v":0.09},{"r":11,"a":22,"b":23,"v":0.08},{"r":11,"a":23,"b":24,"v":0.11},{"r":11,"a":24,"b":25,"v":0.06},{"r":11,"a":25,"b":26,"v":0.04},{"r":11,"a":26,"b":27,"v":0.09},{"r":11,"a":27,"b":28,"v":0.06},{"r":11,"a":28,"b":29,"v":0.1},{"r":11,"a":29,"b":30,"v":0.08},{"r":11,"a":30,"b":31,"v":0.06},{"r":11,"a":31,"b":32,"v":0.11},{"r":11,"a":32,"b":34,"v":0.03},{"r":11,"a":34,"b":35,"v":0.07},{"r":11,"a":35,"b":36,"v":0.09},{"r":11,"a":36,"b":37,"v":0.06},{"r":11,"a":37,"b":38,"v":0.11},{"r":11,"a":38,"b":39,"v":0.1},{"r":12,"a":1,"b":2,"v":0.02},{"r":12,"a":2,"b":3,"v":0.06},{"r":12,"a":3,"b":4,"v":0.03},{"r":12,"a":4,"b":5,"v":0.05},{"r":12,"a":5,"b":6,"v":0.04},{"r":12,"a":6,"b":7,"v":0.05},{"r":12,"a":7,"b":9,"v":0.06},{"r":12,"a":9,"b":10,"v":0.1},{"r":12,"a":10,"b":12,"v":0.03},{"r":12,"a":12,"b":15,"v":0.08},{"r":12,"a":15,"b":16,"v":0.11},{"r":12,"a":16,"b":17,"v":0.06},{"r":12,"a":17,"b":18,"v":0.1},{"r":12,"a":18,"b":21,"v":0.05},{"r":12,"a":21,"b":22,"v":0.03},{"r":12,"a":22,"b":23,"v":0.07},{"r":12,"a":23,"b":24,"v":0.06},{"r":12,"a":24,"b":25,"v":0.04},{"r":12,"a":25,"b":26,"v":0.09},{"r":12,"a":26,"b":27,"v":0.12},{"r":12,"a":27,"b":28,"v":0.06},{"r":12,"a":28,"b":29,"v":0.05},{"r":12,"a":29,"b":30,"v":0.14},{"r":12,"a":30,"b":32,"v":0.08},{"r":12,"a":32,"b":34,"v":0.1},{"r":12,"a":34,"b":35,"v":0.11},{"r":12,"a":35,"b":36,"v":0.12},{"r":12,"a":36,"b":37,"v":0.06},{"r":12,"a":37,"b":38,"v":0.03},{"r":12,"a":38,"b":39,"v":0.05},{"r":13,"a":1,"b":2,"v":0.14},{"r":13,"a":2,"b":3,"v":0.11},{"r":13,"a":3,"b":4,"v":0.09},{"r":13,"a":4,"b":5,"v":0.06},{"r":13,"a":5,"b":6,"v":0.03},{"r":13,"a":6,"b":7,"v":0.07},{"r":13,"a":7,"b":8,"v":0.11},{"r":13,"a":8,"b":10,"v":0.08},{"r":13,"a":10,"b":11,"v":0.07},{"r":13,"a":11,"b":12,"v":0.11},{"r":13,"a":12,"b":13,"v":0.09},{"r":13,"a":13,"b":14,"v":0.07},{"r":13,"a":14,"b":15,"v":0.09},{"r":13,"a":15,"b":16,"v":0.07},{"r":13,"a":16,"b":17,"v":0.14},{"r":13,"a":17,"b":18,"v":0.05},{"r":13,"a":18,"b":20,"v":0.07},{"r":13,"a":20,"b":21,"v":0.11},{"r":13,"a":21,"b":22,"v":0.07},{"r":13,"a":22,"b":23,"v":0.12},{"r":13,"a":23,"b":25,"v":0.08},{"r":13,"a":25,"b":26,"v":0.07},{"r":13,"a":26,"b":27,"v":0.15},{"r":13,"a":27,"b":28,"v":0.07},{"r":13,"a":28,"b":30,"v":0.09},{"r":13,"a":30,"b":31,"v":0.11},{"r":13,"a":31,"b":32,"v":0.04},{"r":13,"a":32,"b":34,"v":0.06},{"r":13,"a":34,"b":37,"v":0.04},{"r":13,"a":37,"b":39,"v":0.05},{"r":13,"a":39,"b":40,"v":0.06},{"r":13,"a":40,"b":41,"v":0.03},{"r":14,"a":2,"b":3,"v":0.1},{"r":14,"a":3,"b":4,"v":0.07},{"r":14,"a":4,"b":6,"v":0.09},{"r":14,"a":6,"b":7,"v":0.07},{"r":14,"a":7,"b":8,"v":0.12},{"r":14,"a":8,"b":9,"v":0.09},{"r":14,"a":9,"b":10,"v":0.04},{"r":14,"a":10,"b":12,"v":0.08},{"r":14,"a":12,"b":13,"v":0.1},{"r":14,"a":13,"b":14,"v":0.24},{"r":14,"a":14,"b":15,"v":0.11},{"r":14,"a":15,"b":16,"v":0.09},{"r":14,"a":16,"b":17,"v":0.07},{"r":14,"a":17,"b":18,"v":0.13},{"r":14,"a":18,"b":20,"v":0.05},{"r":14,"a":20,"b":23,"v":0.1},{"r":14,"a":23,"b":24,"v":0.14},{"r":14,"a":24,"b":25,"v":0.1},{"r":14,"a":25,"b":26,"v":0.06},{"r":14,"a":26,"b":27,"v":0.1},{"r":14,"a":27,"b":28,"v":0.09},{"r":14,"a":28,"b":29,"v":0.06},{"r":14,"a":29,"b":30,"v":0.1},{"r":14,"a":30,"b":31,"v":0.06},{"r":14,"a":31,"b":32,"v":0.03},{"r":14,"a":32,"b":33,"v":0.06},{"r":14,"a":33,"b":34,"v":0.05},{"r":14,"a":34,"b":35,"v":0.06},{"r":14,"a":35,"b":36,"v":0.03},{"r":14,"a":36,"b":37,"v":0.02},{"r":14,"a":37,"b":38,"v":0.03},{"r":14,"a":38,"b":39,"v":0.1},{"r":14,"a":40,"b":41,"v":0.09},{"r":15,"a":1,"b":2,"v":0.06},{"r":15,"a":2,"b":3,"v":0.08},{"r":15,"a":3,"b":4,"v":0.09},{"r":15,"a":4,"b":5,"v":0.11},{"r":15,"a":5,"b":6,"v":0.09},{"r":15,"a":6,"b":7,"v":0.13},{"r":15,"a":7,"b":8,"v":0.09},{"r":15,"a":8,"b":9,"v":0.08},{"r":15,"a":9,"b":10,"v":0.03},{"r":15,"a":10,"b":13,"v":0.05},{"r":15,"a":13,"b":14,"v":0.1},{"r":15,"a":14,"b":15,"v":0.08},{"r":15,"a":15,"b":16,"v":0.14},{"r":15,"a":16,"b":17,"v":0.13},{"r":15,"a":17,"b":20,"v":0.07},{"r":15,"a":20,"b":22,"v":0.08},{"r":15,"a":22,"b":23,"v":0.07},{"r":15,"a":23,"b":24,"v":0.09},{"r":15,"a":24,"b":25,"v":0.07},{"r":15,"a":25,"b":26,"v":0.04},{"r":15,"a":26,"b":27,"v":0.09},{"r":15,"a":27,"b":28,"v":0.1},{"r":15,"a":28,"b":29,"v":0.13},{"r":15,"a":29,"b":30,"v":0.07},{"r":15,"a":30,"b":31,"v":0.02},{"r":15,"a":31,"b":32,"v":0.09},{"r":15,"a":32,"b":33,"v":0.12},{"r":15,"a":33,"b":34,"v":0.08},{"r":15,"a":34,"b":36,"v":0.05},{"r":15,"a":36,"b":37,"v":0.02},{"r":15,"a":37,"b":38,"v":0.04},{"r":16,"a":0,"b":1,"v":0.12},{"r":16,"a":1,"b":2,"v":0.04},{"r":16,"a":2,"b":3,"v":0.09},{"r":16,"a":3,"b":4,"v":0.12},{"r":16,"a":4,"b":5,"v":0.07},{"r":16,"a":5,"b":6,"v":0.09},{"r":16,"a":6,"b":7,"v":0.1},{"r":16,"a":7,"b":9,"v":0.08},{"r":16,"a":9,"b":12,"v":0.04},{"r":16,"a":12,"b":15,"v":0.07},{"r":16,"a":15,"b":16,"v":0.09},{"r":16,"a":16,"b":17,"v":0.07},{"r":16,"a":17,"b":18,"v":0.05},{"r":16,"a":18,"b":19,"v":0.1},{"r":16,"a":19,"b":21,"v":0.07},{"r":16,"a":21,"b":24,"v":0.06},{"r":16,"a":24,"b":25,"v":0.11},{"r":16,"a":25,"b":26,"v":0.05},{"r":16,"a":26,"b":27,"v":0.04},{"r":16,"a":27,"b":28,"v":0.08},{"r":16,"a":28,"b":30,"v":0.05},{"r":16,"a":30,"b":31,"v":0.07},{"r":16,"a":31,"b":32,"v":0.02},{"r":16,"a":32,"b":33,"v":0.06},{"r":16,"a":33,"b":34,"v":0.07},{"r":16,"a":34,"b":35,"v":0.08},{"r":16,"a":35,"b":37,"v":0.01},{"r":16,"a":37,"b":38,"v":0.03},{"r":17,"a":0,"b":1,"v":0.06},{"r":17,"a":1,"b":3,"v":0.09},{"r":17,"a":3,"b":4,"v":0.07},{"r":17,"a":4,"b":7,"v":0.04},{"r":17,"a":7,"b":8,"v":0.07},{"r":17,"a":8,"b":10,"v":0.05},{"r":17,"a":10,"b":11,"v":0.04},{"r":17,"a":11,"b":12,"v":0.07},{"r":17,"a":12,"b":13,"v":0.02},{"r":17,"a":13,"b":15,"v":0.07},{"r":17,"a":15,"b":16,"v":0.24},{"r":17,"a":16,"b":18,"v":0.07},{"r":17,"a":18,"b":20,"v":0.04},{"r":17,"a":20,"b":21,"v":0.07},{"r":17,"a":21,"b":22,"v":0.03},{"r":17,"a":22,"b":23,"v":0.08},{"r":17,"a":23,"b":25,"v":0.05},{"r":17,"a":25,"b":26,"v":0.1},{"r":17,"a":26,"b":27,"v":0.11},{"r":17,"a":27,"b":28,"v":0.07},{"r":17,"a":28,"b":29,"v":0.03},{"r":17,"a":29,"b":31,"v":0.07},{"r":17,"a":31,"b":32,"v":0.02},{"r":17,"a":32,"b":33,"v":0.1},{"r":17,"a":33,"b":34,"v":0.04},{"r":17,"a":34,"b":35,"v":0.07},{"r":17,"a":35,"b":36,"v":0.05},{"r":17,"a":36,"b":37,"v":0.03},{"r":17,"a":37,"b":38,"v":0.06},{"r":18,"a":2,"b":4,"v":0.09},{"r":18,"a":4,"b":5,"v":0.06},{"r":18,"a":5,"b":6,"v":0.08},{"r":18,"a":6,"b":7,"v":0.07},{"r":18,"a":7,"b":8,"v":0.06},{"r":18,"a":8,"b":9,"v":0.08},{"r":18,"a":9,"b":10,"v":0.03},{"r":18,"a":10,"b":11,"v":0.07},{"r":18,"a":11,"b":12,"v":0.08},{"r":18,"a":12,"b":14,"v":0.06},{"r":18,"a":14,"b":15,"v":0.11},{"r":18,"a":15,"b":16,"v":0.13},{"r":18,"a":16,"b":17,"v":0.06},{"r":18,"a":17,"b":18,"v":0.03},{"r":18,"a":18,"b":20,"v":0.05},{"r":18,"a":20,"b":21,"v":0.02},{"r":18,"a":21,"b":22,"v":0.01},{"r":18,"a":22,"b":23,"v":0.08},{"r":18,"a":23,"b":25,"v":0.06},{"r":18,"a":25,"b":26,"v":0.16},{"r":18,"a":26,"b":27,"v":0.08},{"r":18,"a":27,"b":28,"v":0.22},{"r":18,"a":28,"b":30,"v":0.07},{"r":18,"a":30,"b":31,"v":0.03},{"r":18,"a":31,"b":32,"v":0.06},{"r":18,"a":32,"b":33,"v":0.05},{"r":18,"a":33,"b":34,"v":0.07},{"r":18,"a":34,"b":35,"v":0.03},{"r":18,"a":35,"b":36,"v":0.05},{"r":19,"a":1,"b":2,"v":0.13},{"r":19,"a":2,"b":3,"v":0.08},{"r":19,"a":3,"b":4,"v":0.05},{"r":19,"a":4,"b":5,"v":0.07},{"r":19,"a":5,"b":6,"v":0.06},{"r":19,"a":6,"b":9,"v":0.03},{"r":19,"a":9,"b":10,"v":0.05},{"r":19,"a":10,"b":11,"v":0.08},{"r":19,"a":11,"b":13,"v":0.04},{"r":19,"a":13,"b":14,"v":0.08},{"r":19,"a":14,"b":15,"v":0.06},{"r":19,"a":15,"b":16,"v":0.04},{"r":19,"a":16,"b":17,"v":0.02},{"r":19,"a":17,"b":18,"v":0.09},{"r":19,"a":18,"b":20,"v":0.05},{"r":19,"a":20,"b":21,"v":0.04},{"r":19,"a":21,"b":22,"v":0.09},{"r":19,"a":22,"b":23,"v":0.2},{"r":19,"a":23,"b":24,"v":0.05},{"r":19,"a":24,"b":25,"v":0.09},{"r":19,"a":25,"b":26,"v":0.06},{"r":19,"a":26,"b":28,"v":0.07},{"r":19,"a":28,"b":29,"v":0.05},{"r":19,"a":29,"b":32,"v":0.03},{"r":19,"a":32,"b":33,"v":0.05},{"r":19,"a":33,"b":34,"v":0.09},{"r":19,"a":34,"b":35,"v":0.03},{"r":19,"a":35,"b":36,"v":0.1},{"r":19,"a":36,"b":37,"v":0.05},{"r":19,"a":37,"b":38,"v":0.12},{"r":20,"a":5,"b":6,"v":0.1},{"r":20,"a":6,"b":7,"v":0.05},{"r":20,"a":7,"b":8,"v":0.04},{"r":20,"a":8,"b":9,"v":0.06},{"r":20,"a":9,"b":10,"v":0.09},{"r":20,"a":10,"b":11,"v":0.06},{"r":20,"a":11,"b":12,"v":0.1},{"r":20,"a":12,"b":13,"v":0.21},{"r":20,"a":13,"b":14,"v":0.03},{"r":20,"a":14,"b":15,"v":0.06},{"r":20,"a":15,"b":16,"v":0.08},{"r":20,"a":16,"b":17,"v":0.05},{"r":20,"a":17,"b":19,"v":0.04},{"r":20,"a":19,"b":21,"v":0.015},{"r":20,"a":21,"b":22,"v":0.08},{"r":20,"a":22,"b":23,"v":0.09},{"r":20,"a":23,"b":24,"v":0.04},{"r":20,"a":24,"b":25,"v":0.07},{"r":20,"a":25,"b":27,"v":0.09},{"r":20,"a":27,"b":28,"v":0.08},{"r":20,"a":28,"b":29,"v":0.1},{"r":20,"a":29,"b":30,"v":0.06},{"r":20,"a":30,"b":31,"v":0.12},{"r":20,"a":31,"b":32,"v":0.08},{"r":20,"a":32,"b":33,"v":0.06},{"r":20,"a":33,"b":34,"v":0.11},{"r":20,"a":34,"b":35,"v":0.1},{"r":20,"a":35,"b":36,"v":0.05},{"r":20,"a":36,"b":37,"v":0.08},{"r":20,"a":37,"b":38,"v":0.05},{"r":21,"a":6,"b":7,"v":0.05},{"r":21,"a":7,"b":8,"v":0.04},{"r":21,"a":8,"b":9,"v":0.06},{"r":21,"a":9,"b":10,"v":0.09},{"r":21,"a":10,"b":12,"v":0.05},{"r":21,"a":12,"b":13,"v":0.1},{"r":21,"a":13,"b":14,"v":0.03},{"r":21,"a":14,"b":15,"v":0.08},{"r":21,"a":15,"b":16,"v":0.06},{"r":21,"a":16,"b":17,"v":0.12},{"r":21,"a":17,"b":18,"v":0.09},{"r":21,"a":18,"b":19,"v":0.05},{"r":21,"a":19,"b":20,"v":0.06},{"r":21,"a":20,"b":21,"v":0.11},{"r":21,"a":21,"b":22,"v":0.14},{"r":21,"a":22,"b":24,"v":0.1},{"r":21,"a":24,"b":25,"v":0.14},{"r":21,"a":25,"b":26,"v":0.1},{"r":21,"a":26,"b":27,"v":0.12},{"r":21,"a":27,"b":28,"v":0.19},{"r":21,"a":28,"b":29,"v":0.09},{"r":21,"a":29,"b":30,"v":0.06},{"r":21,"a":30,"b":31,"v":0.2},{"r":21,"a":31,"b":32,"v":0.23},{"r":21,"a":32,"b":33,"v":0.08},{"r":21,"a":33,"b":35,"v":0.07},{"r":21,"a":35,"b":36,"v":0.09},{"r":21,"a":36,"b":37,"v":0.03},{"r":22,"a":7,"b":9,"v":0.04},{"r":22,"a":9,"b":10,"v":0.03},{"r":22,"a":10,"b":11,"v":0.06},{"r":22,"a":11,"b":14,"v":0.09},{"r":22,"a":14,"b":15,"v":0.1},{"r":22,"a":15,"b":17,"v":0.13},{"r":22,"a":17,"b":18,"v":0.08},{"r":22,"a":18,"b":19,"v":0.13},{"r":22,"a":19,"b":20,"v":0.08},{"r":22,"a":20,"b":24,"v":0.1},{"r":22,"a":24,"b":25,"v":0.12},{"r":22,"a":25,"b":26,"v":0.08},{"r":22,"a":26,"b":27,"v":0.06},{"r":22,"a":27,"b":28,"v":0.02},{"r":22,"a":28,"b":29,"v":0.06},{"r":22,"a":29,"b":30,"v":0.08},{"r":22,"a":30,"b":31,"v":0.12},{"r":22,"a":31,"b":32,"v":0.09},{"r":22,"a":32,"b":33,"v":0.03},{"r":22,"a":33,"b":34,"v":0.13},{"r":22,"a":34,"b":35,"v":0.21},{"r":22,"a":35,"b":36,"v":0.07},{"r":23,"a":10,"b":11,"v":0.05},{"r":23,"a":11,"b":13,"v":0.07},{"r":23,"a":13,"b":15,"v":0.05},{"r":23,"a":15,"b":16,"v":0.09},{"r":23,"a":16,"b":17,"v":0.17},{"r":23,"a":17,"b":18,"v":0.13},{"r":23,"a":18,"b":20,"v":0.06},{"r":23,"a":20,"b":21,"v":0.09},{"r":23,"a":21,"b":22,"v":0.13},{"r":23,"a":22,"b":24,"v":0.09},{"r":23,"a":24,"b":25,"v":0.05},{"r":23,"a":25,"b":26,"v":0.16},{"r":23,"a":26,"b":27,"v":0.04},{"r":23,"a":27,"b":28,"v":0.07},{"r":23,"a":28,"b":29,"v":0.02},{"r":23,"a":29,"b":30,"v":0.05},{"r":23,"a":30,"b":32,"v":0.09},{"r":23,"a":32,"b":33,"v":0.07},{"r":23,"a":33,"b":34,"v":0.21},{"r":23,"a":34,"b":35,"v":0.16},{"r":23,"a":35,"b":36,"v":0.07},{"r":24,"a":9,"b":10,"v":0.02},{"r":24,"a":10,"b":12,"v":0.09},{"r":24,"a":12,"b":13,"v":0.07},{"r":24,"a":13,"b":14,"v":0.11},{"r":24,"a":14,"b":15,"v":0.07},{"r":24,"a":15,"b":16,"v":0.09},{"r":24,"a":16,"b":17,"v":0.06},{"r":24,"a":17,"b":19,"v":0.08},{"r":24,"a":19,"b":20,"v":0.12},{"r":24,"a":20,"b":21,"v":0.09},{"r":24,"a":21,"b":22,"v":0.2},{"r":24,"a":22,"b":23,"v":0.09},{"r":24,"a":23,"b":24,"v":0.13},{"r":24,"a":24,"b":26,"v":0.08},{"r":24,"a":26,"b":27,"v":0.05},{"r":24,"a":27,"b":28,"v":0.03},{"r":24,"a":28,"b":29,"v":0.05},{"r":24,"a":29,"b":30,"v":0.06},{"r":24,"a":32,"b":33,"v":0.13},{"r":24,"a":33,"b":34,"v":0.07},{"r":24,"a":34,"b":35,"v":0.14},{"r":25,"a":10,"b":11,"v":0.1},{"r":25,"a":11,"b":12,"v":0.03},{"r":25,"a":12,"b":13,"v":0.11},{"r":25,"a":13,"b":14,"v":0.1},{"r":25,"a":14,"b":16,"v":0.07},{"r":25,"a":16,"b":18,"v":0.11},{"r":25,"a":18,"b":19,"v":0.21},{"r":25,"a":19,"b":20,"v":0.13},{"r":25,"a":20,"b":21,"v":0.06},{"r":25,"a":21,"b":22,"v":0.22},{"r":25,"a":22,"b":23,"v":0.16},{"r":25,"a":27,"b":28,"v":0.08},{"r":26,"a":14,"b":15,"v":0.09},{"r":26,"a":15,"b":16,"v":0.07},{"r":26,"a":16,"b":17,"v":0.24},{"r":26,"a":17,"b":18,"v":0.18},{"r":26,"a":18,"b":19,"v":0.11},{"r":26,"a":22,"b":23,"v":0.07}]},"resolve":{"scale":{"color":"independent"},"legend":{"color":"independent"}},"bounds":"flush","spacing":{"row":0,"column":203},"columns":2,"align":{"row":"each","column":"each"},"concat":[{"width":383,"height":250,"layer":[{"data":{"name":"A"},"mark":{"type":"rect","height":9.4},"encoding":{"x":{"field":"a","type":"quantitative","axis":null,"scale":{"domain":[-0.43,41],"nice":false}},"x2":{"field":"b"},"y":{"field":"r","type":"quantitative","axis":null,"scale":{"domain":[-0.5,26.5],"reverse":true,"nice":false}},"color":{"field":"v","type":"quantitative","scale":{"domain":[-0.43,0.43],"range":["#00007f","#0000ff","#007fff","#00ffff","#7fff7f","#ffff00","#ff7f00","#ff0000","#7f0000"]},"legend":{"orient":"none","legendX":391,"legendY":14,"title":null,"direction":"vertical","gradientLength":221,"gradientThickness":22,"gradientStrokeColor":"#000","gradientStrokeWidth":1,"labelFontSize":23,"labelColor":"#111","labelOffset":23,"values":[-0.4,-0.2,0,0.2,0.4],"labelOverlap":false,"labelExpr":"(datum.value<0?'−':'+')+format(abs(datum.value),'.2f')+' mm⁻¹'","encode":{"labels":{"update":{"baseline":{"value":"middle"},"dy":{"value":4}}}}}}}},{"data":{"values":[{"t":"A"}]},"mark":{"type":"text","fontSize":40,"align":"left","baseline":"alphabetic","color":"#000"},"encoding":{"x":{"datum":-0.97,"scale":{"domain":[-0.43,41],"nice":false},"axis":null},"y":{"datum":1.77,"scale":{"domain":[-0.5,26.5],"reverse":true,"nice":false},"axis":null},"text":{"field":"t"}}}]},{"width":359,"height":250,"layer":[{"data":{"name":"B"},"mark":{"type":"rect","height":9},"encoding":{"x":{"field":"a","type":"quantitative","axis":null,"scale":{"domain":[-0.46,41],"nice":false}},"x2":{"field":"b"},"y":{"field":"r","type":"quantitative","axis":null,"scale":{"domain":[-1.3,27.4],"reverse":true,"nice":false}},"color":{"field":"v","type":"quantitative","scale":{"domain":[-0.101,0.101],"range":["#00007f","#0000ff","#007fff","#00ffff","#7fff7f","#ffff00","#ff7f00","#ff0000","#7f0000"]},"legend":{"orient":"none","legendX":391,"legendY":14,"title":null,"direction":"vertical","gradientLength":221,"gradientThickness":22,"gradientStrokeColor":"#000","gradientStrokeWidth":1,"labelFontSize":23,"labelColor":"#111","labelOffset":24,"values":[-0.1,0,0.1],"labelOverlap":false,"labelExpr":"(datum.value<0?'−':'+')+format(abs(datum.value),'.2f')+' mm⁻²'","encode":{"labels":{"update":{"baseline":{"value":"middle"},"dy":{"value":4}}}}}}}},{"data":{"values":[{"t":"B"}]},"mark":{"type":"text","fontSize":40,"align":"left","baseline":"alphabetic","color":"#000"},"encoding":{"x":{"datum":-0.46,"scale":{"domain":[-0.46,41],"nice":false},"axis":null},"y":{"datum":1.11,"scale":{"domain":[-1.3,27.4],"reverse":true,"nice":false},"axis":null},"text":{"field":"t"}}}]},{"width":1,"height":11,"data":{"values":[]},"mark":"rect","encoding":{}},{"width":1,"height":11,"data":{"values":[]},"mark":"rect","encoding":{}},{"width":383,"height":78,"layer":[{"data":{"values":[{"x0":-0.41,"x1":-0.334,"n":8,"c":-0.372},{"x0":-0.334,"x1":-0.258,"n":37,"c":-0.296},{"x0":-0.258,"x1":-0.182,"n":84,"c":-0.22},{"x0":-0.182,"x1":-0.105,"n":105,"c":-0.144},{"x0":-0.105,"x1":-0.029,"n":132,"c":-0.067},{"x0":-0.029,"x1":0.047,"n":156,"c":0.009},{"x0":0.047,"x1":0.123,"n":126,"c":0.085},{"x0":0.123,"x1":0.199,"n":96,"c":0.161},{"x0":0.199,"x1":0.275,"n":37,"c":0.237},{"x0":0.275,"x1":0.351,"n":10,"c":0.313}]},"mark":{"type":"rect","stroke":"#000","strokeWidth":1.2},"encoding":{"x":{"field":"x0","type":"quantitative","scale":{"domain":[-0.413,0.433],"nice":false,"range":[115,374]},"title":"mean curvature (mm⁻¹)","axis":{"values":[-0.4,-0.2,0,0.2,0.4],"labelExpr":"datum.value<0?'−'+format(-datum.value,'.1f'):(datum.value==0?'0':format(datum.value,'.1f'))","titlePadding":7}},"x2":{"field":"x1"},"y":{"field":"n","type":"quantitative","scale":{"domain":[0,200],"nice":false},"title":"count","axis":{"values":[0,100,200],"offset":-115,"labelPadding":8,"titlePadding":6}},"y2":{"datum":0},"color":{"field":"c","type":"quantitative","legend":null,"scale":{"domain":[-0.43,0.43],"range":["#00007f","#0000ff","#007fff","#00ffff","#7fff7f","#ffff00","#ff7f00","#ff0000","#7f0000"]}}}},{"data":{"values":[{"x0":-0.413,"x1":0.433,"n":200}]},"mark":{"type":"rect","fillOpacity":0,"stroke":"#000","strokeWidth":1.5},"encoding":{"x":{"field":"x0","type":"quantitative"},"x2":{"field":"x1"},"y":{"field":"n","type":"quantitative"},"y2":{"datum":0}}}]},{"width":374,"height":78,"layer":[{"data":{"values":[{"x0":-0.0637,"x1":-0.0454,"n":2,"c":-0.0545},{"x0":-0.0454,"x1":-0.0272,"n":9,"c":-0.0363},{"x0":-0.0272,"x1":-0.0089,"n":57,"c":-0.018},{"x0":-0.0089,"x1":0.0094,"n":197,"c":0.0002},{"x0":0.0094,"x1":0.0277,"n":249,"c":0.0185},{"x0":0.0277,"x1":0.046,"n":149,"c":0.0368},{"x0":0.046,"x1":0.0642,"n":75,"c":0.055},{"x0":0.0642,"x1":0.0825,"n":29,"c":0.0733},{"x0":0.0825,"x1":0.102,"n":14,"c":0.0915}]},"mark":{"type":"rect","stroke":"#000","strokeWidth":1.2},"encoding":{"x":{"field":"x0","type":"quantitative","scale":{"domain":[-0.101,0.102],"nice":false,"range":[115,374]},"title":"Gaussian curvature (mm⁻²)","axis":{"values":[-0.1,0,0.1],"labelExpr":"datum.value<0?'−'+format(-datum.value,'.1f'):(datum.value==0?'0':format(datum.value,'.1f'))","titlePadding":7}},"x2":{"field":"x1"},"y":{"field":"n","type":"quantitative","scale":{"domain":[0,400],"nice":false},"title":"count","axis":{"values":[0,200,400],"offset":-115,"labelPadding":8,"titlePadding":6}},"y2":{"datum":0},"color":{"field":"c","type":"quantitative","legend":null,"scale":{"domain":[-0.101,0.101],"range":["#00007f","#0000ff","#007fff","#00ffff","#7fff7f","#ffff00","#ff7f00","#ff0000","#7f0000"]}}}},{"data":{"values":[{"x0":-0.101,"x1":0.102,"n":400}]},"mark":{"type":"rect","fillOpacity":0,"stroke":"#000","strokeWidth":1.5},"encoding":{"x":{"field":"x0","type":"quantitative"},"x2":{"field":"x1"},"y":{"field":"n","type":"quantitative"},"y2":{"datum":0}}}]},{"width":1,"height":121,"data":{"values":[]},"mark":"rect","encoding":{}},{"width":1,"height":121,"data":{"values":[]},"mark":"rect","encoding":{}},{"width":383,"height":235,"layer":[{"data":{"name":"C"},"mark":{"type":"rect","height":9},"encoding":{"x":{"field":"a","type":"quantitative","axis":null,"scale":{"domain":[0,44.2],"nice":false}},"x2":{"field":"b"},"y":{"field":"r","type":"quantitative","axis":null,"scale":{"domain":[-0.5,26.5],"reverse":true,"nice":false}},"color":{"field":"v","type":"quantitative","scale":{"domain":[0,0.601],"range":["#000000","#570000","#ae0000","#ff0300","#ff5a00","#ffab00","#ffff05","#ffff80","#ffffff"]},"legend":{"orient":"none","legendX":387,"legendY":7,"title":null,"direction":"vertical","gradientLength":221,"gradientThickness":22,"gradientStrokeColor":"#000","gradientStrokeWidth":1,"labelFontSize":23,"labelColor":"#111","labelOffset":24,"values":[0,0.2,0.4,0.6],"labelOverlap":false,"labelExpr":"'+'+format(datum.value,'.2f')+' mm⁻¹'","encode":{"labels":{"update":{"baseline":{"value":"middle"},"dy":{"value":4}}}}}}}},{"data":{"values":[{"t":"C"}]},"mark":{"type":"text","fontSize":40,"align":"left","baseline":"alphabetic","color":"#000"},"encoding":{"x":{"datum":-0.69,"scale":{"domain":[0,44.2],"nice":false},"axis":null},"y":{"datum":2.14,"scale":{"domain":[-0.5,26.5],"reverse":true,"nice":false},"axis":null},"text":{"field":"t"}}}]},{"width":359,"height":235,"layer":[{"data":{"name":"D"},"mark":{"type":"rect","height":9},"encoding":{"x":{"field":"a","type":"quantitative","axis":null,"scale":{"domain":[0,41.46],"nice":false}},"x2":{"field":"b"},"y":{"field":"r","type":"quantitative","axis":null,"scale":{"domain":[-0.5,26.5],"reverse":true,"nice":false}},"color":{"field":"v","type":"quantitative","scale":{"domain":[0,0.251],"range":["#000000","#570000","#ae0000","#ff0300","#ff5a00","#ffab00","#ffff05","#ffff80","#ffffff"]},"legend":{"orient":"none","legendX":387,"legendY":7,"title":null,"direction":"vertical","gradientLength":221,"gradientThickness":22,"gradientStrokeColor":"#000","gradientStrokeWidth":1,"labelFontSize":23,"labelColor":"#111","labelOffset":23,"values":[0,0.1,0.2],"labelOverlap":false,"labelExpr":"'+'+format(datum.value,'.2f')+' mm⁻²'","encode":{"labels":{"update":{"baseline":{"value":"middle"},"dy":{"value":4}}}}}}}},{"data":{"values":[{"t":"D"}]},"mark":{"type":"text","fontSize":40,"align":"left","baseline":"alphabetic","color":"#000"},"encoding":{"x":{"datum":0,"scale":{"domain":[0,41.46],"nice":false},"axis":null},"y":{"datum":2.14,"scale":{"domain":[-0.5,26.5],"reverse":true,"nice":false},"axis":null},"text":{"field":"t"}}}]},{"width":1,"height":20,"data":{"values":[]},"mark":"rect","encoding":{}},{"width":1,"height":20,"data":{"values":[]},"mark":"rect","encoding":{}},{"width":383,"height":77,"layer":[{"data":{"values":[{"x0":0.045,"x1":0.109,"n":9,"c":0.077},{"x0":0.109,"x1":0.173,"n":99,"c":0.141},{"x0":0.173,"x1":0.236,"n":189,"c":0.205},{"x0":0.236,"x1":0.3,"n":218,"c":0.268},{"x0":0.3,"x1":0.363,"n":154,"c":0.332},{"x0":0.363,"x1":0.428,"n":71,"c":0.396},{"x0":0.428,"x1":0.491,"n":35,"c":0.46},{"x0":0.491,"x1":0.555,"n":5,"c":0.523},{"x0":0.555,"x1":0.6,"n":3,"c":0.587}]},"mark":{"type":"rect","stroke":"#000","strokeWidth":1.2},"encoding":{"x":{"field":"x0","type":"quantitative","scale":{"domain":[-0.048,0.6],"nice":false,"range":[112,370]},"title":"mean curvature standard deviation (mm⁻¹)","axis":{"values":[0,0.2,0.4,0.6],"labelExpr":"datum.value==0?'0':format(datum.value,'.1f')","titlePadding":7}},"x2":{"field":"x1"},"y":{"field":"n","type":"quantitative","scale":{"domain":[0,400],"nice":false},"title":"count","axis":{"values":[0,200,400],"offset":-112,"labelPadding":8,"titlePadding":6}},"y2":{"datum":0},"color":{"field":"c","type":"quantitative","legend":null,"scale":{"domain":[0,0.601],"range":["#000000","#570000","#ae0000","#ff0300","#ff5a00","#ffab00","#ffff05","#ffff80","#ffffff"]}}}},{"data":{"values":[{"x0":-0.048,"x1":0.6,"n":400}]},"mark":{"type":"rect","fillOpacity":0,"stroke":"#000","strokeWidth":1.5},"encoding":{"x":{"field":"x0","type":"quantitative"},"x2":{"field":"x1"},"y":{"field":"n","type":"quantitative"},"y2":{"datum":0}}}]},{"width":374,"height":77,"layer":[{"data":{"values":[{"x0":-0.008,"x1":0.0185,"n":26,"c":0.005},{"x0":0.0185,"x1":0.045,"n":229,"c":0.032},{"x0":0.045,"x1":0.072,"n":248,"c":0.058},{"x0":0.072,"x1":0.0986,"n":164,"c":0.085},{"x0":0.0986,"x1":0.1255,"n":66,"c":0.112},{"x0":0.1255,"x1":0.152,"n":24,"c":0.139},{"x0":0.152,"x1":0.179,"n":7,"c":0.165},{"x0":0.179,"x1":0.205,"n":3,"c":0.192},{"x0":0.205,"x1":0.232,"n":9,"c":0.218},{"x0":0.232,"x1":0.25,"n":9,"c":0.241}]},"mark":{"type":"rect","stroke":"#000","strokeWidth":1.2},"encoding":{"x":{"field":"x0","type":"quantitative","scale":{"domain":[-0.0206,0.25],"nice":false,"range":[111,370]},"title":"Gaussian curvature standard deviation (mm⁻²)","axis":{"values":[0,0.1,0.2],"labelExpr":"datum.value==0?'0':format(datum.value,'.1f')","titlePadding":7}},"x2":{"field":"x1"},"y":{"field":"n","type":"quantitative","scale":{"domain":[0,400],"nice":false},"title":"count","axis":{"values":[0,200,400],"offset":-111,"labelPadding":8,"titlePadding":6}},"y2":{"datum":0},"color":{"field":"c","type":"quantitative","legend":null,"scale":{"domain":[0,0.251],"range":["#000000","#570000","#ae0000","#ff0300","#ff5a00","#ffab00","#ffff05","#ffff80","#ffffff"]}}}},{"data":{"values":[{"x0":-0.0206,"x1":0.25,"n":400}]},"mark":{"type":"rect","fillOpacity":0,"stroke":"#000","strokeWidth":1.5},"encoding":{"x":{"field":"x0","type":"quantitative"},"x2":{"field":"x1"},"y":{"field":"n","type":"quantitative"},"y2":{"datum":0}}}]}]}
